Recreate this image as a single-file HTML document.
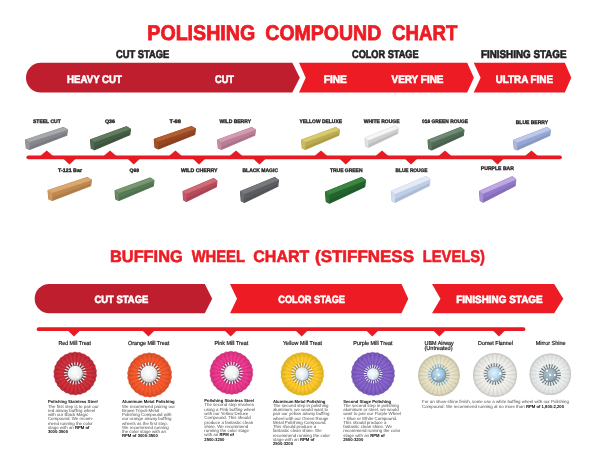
<!DOCTYPE html>
<html lang="en"><head><meta charset="utf-8"><title>Polishing Compound Chart</title>
<style>
html,body{margin:0;padding:0;background:#fff}
body{width:600px;height:469px;overflow:hidden;position:relative;font-family:"Liberation Sans",sans-serif}
svg{position:absolute;left:0;top:0;display:block}
text{font-family:"Liberation Sans",sans-serif;text-rendering:geometricPrecision}
.b{font-weight:700}
.t1{font-weight:700;fill:#ED1C24;stroke:#ED1C24;stroke-width:.8px;stroke-linejoin:miter}
.t2{font-weight:700;fill:#ED1C24;stroke:#ED1C24;stroke-width:.6px}
.w{font-weight:700;fill:#fff;stroke:#fff;stroke-width:.6px}
.k{font-weight:700;fill:#231F20;stroke:#231F20;stroke-width:.65px}
.s{font-weight:700;fill:#231F20;stroke:#231F20;stroke-width:.33px}
.lb{fill:#231F20;stroke:#231F20;stroke-width:.22px}
.d{fill:#4d4d4f}
</style></head><body>
<svg width="600" height="469" viewBox="0 0 600 469">
<defs><filter id="s" x="-5%" y="-5%" width="110%" height="110%"><feGaussianBlur stdDeviation="0.35"/></filter>
<filter id="s2" x="-5%" y="-5%" width="110%" height="110%"><feGaussianBlur stdDeviation="0.5"/></filter>
<radialGradient id="hub" cx="0.45" cy="0.4" r="0.62"><stop offset="0" stop-color="#fff"/><stop offset="0.65" stop-color="#eceeef"/><stop offset="1" stop-color="#bcc0c3"/></radialGradient>
<filter id="s3" x="-8%" y="-8%" width="116%" height="116%"><feGaussianBlur stdDeviation="0.65"/></filter>
<radialGradient id="hubl" cx="0.45" cy="0.42" r="0.6"><stop offset="0" stop-color="#ffffff"/><stop offset="0.6" stop-color="#e2ecf2"/><stop offset="1" stop-color="#b4c4ce"/></radialGradient>
<radialGradient id="hubb2" cx="0.45" cy="0.42" r="0.6"><stop offset="0" stop-color="#e6f2fa"/><stop offset="0.6" stop-color="#b9d7ea"/><stop offset="1" stop-color="#86a8bd"/></radialGradient>
<radialGradient id="hubg" cx="0.45" cy="0.42" r="0.6"><stop offset="0" stop-color="#b4c6d0"/><stop offset="0.7" stop-color="#92aab8"/><stop offset="1" stop-color="#6e8592"/></radialGradient>
<radialGradient id="rim" cx="0.5" cy="0.5" r="0.5"><stop offset="0" stop-color="#000" stop-opacity="0"/><stop offset="0.72" stop-color="#000" stop-opacity="0"/><stop offset="1" stop-color="#000" stop-opacity="0.12"/></radialGradient>
<radialGradient id="rimw" cx="0.5" cy="0.5" r="0.5"><stop offset="0" stop-color="#444" stop-opacity="0.06"/><stop offset="0.6" stop-color="#444" stop-opacity="0"/><stop offset="0.9" stop-color="#444" stop-opacity="0.10"/><stop offset="1" stop-color="#333" stop-opacity="0.26"/></radialGradient>
<radialGradient id="hubb" cx="0.45" cy="0.4" r="0.6"><stop offset="0" stop-color="#cfe6f4"/><stop offset="0.6" stop-color="#9cc3dd"/><stop offset="1" stop-color="#6f93ab"/></radialGradient>
</defs>
<rect width="600" height="469" fill="#fff"/>
<text x="147.30" y="39.70" font-size="21.2" class="t1" textLength="107.90" lengthAdjust="spacingAndGlyphs">POLISHING</text>
<text x="265.30" y="39.70" font-size="21.2" class="t1" textLength="116.00" lengthAdjust="spacingAndGlyphs">COMPOUND</text>
<text x="392.00" y="39.70" font-size="21.2" class="t1" textLength="65.30" lengthAdjust="spacingAndGlyphs">CHART</text>
<text x="116.00" y="58.00" font-size="11.2" class="k" textLength="53.30" lengthAdjust="spacingAndGlyphs">CUT STAGE</text>
<text x="352.00" y="58.00" font-size="11.2" class="k" textLength="66.60" lengthAdjust="spacingAndGlyphs">COLOR STAGE</text>
<text x="481.00" y="58.00" font-size="11.2" class="k" textLength="85.50" lengthAdjust="spacingAndGlyphs">FINISHING STAGE</text>
<path d="M40.85 62.8 H292.3 L299.8 77.65 L292.3 92.5 H40.85 A14.85 14.85 0 0 1 40.85 62.8Z" fill="#BE1E2D"/>
<path d="M299 62.8 H467.2 L473.9 77.65 L467.2 92.5 H299 L305.7 77.65Z" fill="#ED1C24"/>
<path d="M473.7 62.8 H564.8 L571.3 77.65 L564.8 92.5 H473.7 L480.6 77.65Z" fill="#ED1C24"/>
<text x="67.00" y="82.50" font-size="11" class="w" textLength="55.00" lengthAdjust="spacingAndGlyphs">HEAVY CUT</text>
<text x="215.00" y="82.50" font-size="11" class="w" textLength="19.00" lengthAdjust="spacingAndGlyphs">CUT</text>
<text x="323.70" y="82.50" font-size="11" class="w" textLength="23.10" lengthAdjust="spacingAndGlyphs">FINE</text>
<text x="391.50" y="82.50" font-size="11" class="w" textLength="52.00" lengthAdjust="spacingAndGlyphs">VERY FINE</text>
<text x="495.70" y="82.50" font-size="11" class="w" textLength="57.30" lengthAdjust="spacingAndGlyphs">ULTRA FINE</text>
<line x1="28.3" y1="157.3" x2="560" y2="157.3" stroke="#E61B23" stroke-width="3.7" stroke-linecap="round"/>
<path d="M38.80 157.3 L46.70 150.40 L54.60 157.3Z" fill="#E61B23"/>
<path d="M102.10 157.3 L110.00 150.40 L117.90 157.3Z" fill="#E61B23"/>
<path d="M167.50 157.3 L175.40 150.40 L183.30 157.3Z" fill="#E61B23"/>
<path d="M228.10 157.3 L236.00 150.40 L243.90 157.3Z" fill="#E61B23"/>
<path d="M313.10 157.3 L321.00 150.40 L328.90 157.3Z" fill="#E61B23"/>
<path d="M374.10 157.3 L382.00 150.40 L389.90 157.3Z" fill="#E61B23"/>
<path d="M437.10 157.3 L445.00 150.40 L452.90 157.3Z" fill="#E61B23"/>
<path d="M523.60 157.3 L531.50 150.40 L539.40 157.3Z" fill="#E61B23"/>
<path d="M61.70 157.3 L69.50 164.40 L77.30 157.3Z" fill="#E61B23"/>
<path d="M125.95 157.3 L133.75 164.40 L141.55 157.3Z" fill="#E61B23"/>
<path d="M191.20 157.3 L199.00 164.40 L206.80 157.3Z" fill="#E61B23"/>
<path d="M251.70 157.3 L259.50 164.40 L267.30 157.3Z" fill="#E61B23"/>
<path d="M337.95 157.3 L345.75 164.40 L353.55 157.3Z" fill="#E61B23"/>
<path d="M403.20 157.3 L411.00 164.40 L418.80 157.3Z" fill="#E61B23"/>
<path d="M489.70 157.3 L497.50 164.40 L505.30 157.3Z" fill="#E61B23"/>
<g filter="url(#s)">
<polygon points="25.50,139.90 63.30,127.50 67.50,129.80 66.72,135.30 29.70,149.50 26.28,148.00" fill="#84868b" stroke="#84868b" stroke-width="1.1" stroke-linejoin="round"/>
<polygon points="29.60,146.70 66.91,133.30 66.72,135.30 29.70,149.50" fill="#000" fill-opacity="0.09"/>
<polygon points="25.50,139.90 63.30,127.50 67.50,129.80 29.41,142.10" fill="#a7a9ac" stroke="#a7a9ac" stroke-width="0.5" stroke-linejoin="round"/>
<polygon points="25.50,139.90 29.41,142.10 29.70,149.50 26.28,148.00" fill="#94969a"/>
</g>
<text x="33.00" y="123.20" font-size="5.1" class="s" textLength="27.75" lengthAdjust="spacingAndGlyphs">STEEL CUT</text>
<g filter="url(#s)">
<polygon points="90.50,139.66 126.50,126.70 130.50,129.10 129.76,134.85 94.50,149.70 91.24,148.13" fill="#425c44" stroke="#425c44" stroke-width="1.1" stroke-linejoin="round"/>
<polygon points="94.41,146.77 129.94,132.76 129.76,134.85 94.50,149.70" fill="#000" fill-opacity="0.09"/>
<polygon points="90.50,139.66 126.50,126.70 130.50,129.10 94.22,141.96" fill="#627c5e" stroke="#627c5e" stroke-width="0.5" stroke-linejoin="round"/>
<polygon points="90.50,139.66 94.22,141.96 94.50,149.70 91.24,148.13" fill="#506a50"/>
</g>
<text x="105.00" y="123.20" font-size="5.1" class="s" textLength="10.00" lengthAdjust="spacingAndGlyphs">Q36</text>
<g filter="url(#s)">
<polygon points="154.25,139.18 191.38,126.50 195.50,128.85 194.73,134.48 158.38,149.00 155.02,147.47" fill="#964624" stroke="#964624" stroke-width="1.1" stroke-linejoin="round"/>
<polygon points="158.28,146.14 194.92,132.43 194.73,134.48 158.38,149.00" fill="#000" fill-opacity="0.09"/>
<polygon points="154.25,139.18 191.38,126.50 195.50,128.85 158.09,141.43" fill="#b45e30" stroke="#b45e30" stroke-width="0.5" stroke-linejoin="round"/>
<polygon points="154.25,139.18 158.09,141.43 158.38,149.00 155.02,147.47" fill="#a25028"/>
</g>
<text x="169.50" y="123.20" font-size="5.1" class="s" textLength="11.50" lengthAdjust="spacingAndGlyphs">T-88</text>
<g filter="url(#s)">
<polygon points="217.50,139.90 251.70,127.50 255.50,129.80 254.79,135.30 221.30,149.50 218.21,148.00" fill="#ba7e96" stroke="#ba7e96" stroke-width="1.1" stroke-linejoin="round"/>
<polygon points="221.21,146.70 254.97,133.30 254.79,135.30 221.30,149.50" fill="#000" fill-opacity="0.09"/>
<polygon points="217.50,139.90 251.70,127.50 255.50,129.80 221.03,142.10" fill="#d39cb0" stroke="#d39cb0" stroke-width="0.5" stroke-linejoin="round"/>
<polygon points="217.50,139.90 221.03,142.10 221.30,149.50 218.21,148.00" fill="#c58ba1"/>
</g>
<text x="219.50" y="123.20" font-size="5.1" class="s" textLength="31.50" lengthAdjust="spacingAndGlyphs">WILD BERRY</text>
<g filter="url(#s)">
<polygon points="301.50,139.90 335.70,127.50 339.50,129.80 338.79,135.30 305.30,149.50 302.21,148.00" fill="#bcac50" stroke="#bcac50" stroke-width="1.1" stroke-linejoin="round"/>
<polygon points="305.21,146.70 338.97,133.30 338.79,135.30 305.30,149.50" fill="#000" fill-opacity="0.09"/>
<polygon points="301.50,139.90 335.70,127.50 339.50,129.80 305.03,142.10" fill="#d8ca70" stroke="#d8ca70" stroke-width="0.5" stroke-linejoin="round"/>
<polygon points="301.50,139.90 305.03,142.10 305.30,149.50 302.21,148.00" fill="#cabc60"/>
</g>
<text x="299.50" y="123.20" font-size="5.1" class="s" textLength="42.50" lengthAdjust="spacingAndGlyphs">YELLOW DELUXE</text>
<g filter="url(#s)">
<polygon points="365.00,138.12 394.93,126.00 398.25,128.25 397.63,133.62 368.32,147.50 365.62,146.03" fill="#cecfd1" stroke="#cecfd1" stroke-width="1.1" stroke-linejoin="round"/>
<polygon points="368.25,144.76 397.79,131.67 397.63,133.62 368.32,147.50" fill="#000" fill-opacity="0.09"/>
<polygon points="365.00,138.12 394.93,126.00 398.25,128.25 368.09,140.27" fill="#f6f6f6" stroke="#f6f6f6" stroke-width="0.5" stroke-linejoin="round"/>
<polygon points="365.00,138.12 368.09,140.27 368.32,147.50 365.62,146.03" fill="#e0e1e2"/>
</g>
<text x="363.75" y="123.20" font-size="5.1" class="s" textLength="35.75" lengthAdjust="spacingAndGlyphs">WHITE ROUGE</text>
<g filter="url(#s)">
<polygon points="428.00,140.18 460.40,127.50 464.00,129.85 463.33,135.48 431.60,150.00 428.67,148.47" fill="#506a56" stroke="#506a56" stroke-width="1.1" stroke-linejoin="round"/>
<polygon points="431.52,147.14 463.50,133.43 463.33,135.48 431.60,150.00" fill="#000" fill-opacity="0.09"/>
<polygon points="428.00,140.18 460.40,127.50 464.00,129.85 431.35,142.43" fill="#708a72" stroke="#708a72" stroke-width="0.5" stroke-linejoin="round"/>
<polygon points="428.00,140.18 431.35,142.43 431.60,150.00 428.67,148.47" fill="#607a64"/>
</g>
<text x="422.00" y="123.20" font-size="5.1" class="s" textLength="46.00" lengthAdjust="spacingAndGlyphs">016 GREEN ROUGE</text>
<g filter="url(#s)">
<polygon points="513.50,140.18 546.80,127.50 550.50,129.85 549.81,135.48 517.20,150.00 514.19,148.47" fill="#96a6d4" stroke="#96a6d4" stroke-width="1.1" stroke-linejoin="round"/>
<polygon points="517.11,147.14 549.98,133.43 549.81,135.48 517.20,150.00" fill="#000" fill-opacity="0.09"/>
<polygon points="513.50,140.18 546.80,127.50 550.50,129.85 516.94,142.43" fill="#bec8e8" stroke="#bec8e8" stroke-width="0.5" stroke-linejoin="round"/>
<polygon points="513.50,140.18 516.94,142.43 517.20,150.00 514.19,148.47" fill="#aab6de"/>
</g>
<text x="515.75" y="123.50" font-size="5.1" class="s" textLength="32.25" lengthAdjust="spacingAndGlyphs">BLUE BERRY</text>
<g filter="url(#s)">
<polygon points="48.00,190.46 87.15,177.50 91.50,179.90 90.69,185.65 52.35,200.50 48.81,198.93" fill="#be8850" stroke="#be8850" stroke-width="1.1" stroke-linejoin="round"/>
<polygon points="52.25,197.57 90.89,183.56 90.69,185.65 52.35,200.50" fill="#000" fill-opacity="0.09"/>
<polygon points="48.00,190.46 87.15,177.50 91.50,179.90 52.05,192.76" fill="#daa870" stroke="#daa870" stroke-width="0.5" stroke-linejoin="round"/>
<polygon points="48.00,190.46 52.05,192.76 52.35,200.50 48.81,198.93" fill="#cc9860"/>
</g>
<text x="58.00" y="172.00" font-size="5.1" class="s" textLength="24.00" lengthAdjust="spacingAndGlyphs">T-121 Bar</text>
<g filter="url(#s)">
<polygon points="115.00,190.68 150.10,178.00 154.00,180.35 153.27,185.98 118.90,200.50 115.73,198.97" fill="#567a56" stroke="#567a56" stroke-width="1.1" stroke-linejoin="round"/>
<polygon points="118.81,197.64 153.46,183.93 153.27,185.98 118.90,200.50" fill="#000" fill-opacity="0.09"/>
<polygon points="115.00,190.68 150.10,178.00 154.00,180.35 118.63,192.93" fill="#7a9870" stroke="#7a9870" stroke-width="0.5" stroke-linejoin="round"/>
<polygon points="115.00,190.68 118.63,192.93 118.90,200.50 115.73,198.97" fill="#688862"/>
</g>
<text x="129.50" y="172.00" font-size="5.1" class="s" textLength="9.50" lengthAdjust="spacingAndGlyphs">Q69</text>
<g filter="url(#s)">
<polygon points="183.00,191.46 213.60,178.50 217.00,180.90 216.37,186.65 186.40,201.50 183.63,199.93" fill="#b64c5c" stroke="#b64c5c" stroke-width="1.1" stroke-linejoin="round"/>
<polygon points="186.32,198.57 216.53,184.56 216.37,186.65 186.40,201.50" fill="#000" fill-opacity="0.09"/>
<polygon points="183.00,191.46 213.60,178.50 217.00,180.90 186.16,193.76" fill="#d16a77" stroke="#d16a77" stroke-width="0.5" stroke-linejoin="round"/>
<polygon points="183.00,191.46 186.16,193.76 186.40,201.50 183.63,199.93" fill="#c35a68"/>
</g>
<text x="181.00" y="172.00" font-size="5.1" class="s" textLength="36.50" lengthAdjust="spacingAndGlyphs">WILD CHERRY</text>
<g filter="url(#s)">
<polygon points="240.50,191.59 274.70,177.50 278.50,180.11 277.79,186.36 244.30,202.50 241.21,200.80" fill="#5a5c60" stroke="#5a5c60" stroke-width="1.1" stroke-linejoin="round"/>
<polygon points="244.21,199.32 277.97,184.09 277.79,186.36 244.30,202.50" fill="#000" fill-opacity="0.09"/>
<polygon points="240.50,191.59 274.70,177.50 278.50,180.11 244.03,194.09" fill="#77797d" stroke="#77797d" stroke-width="0.5" stroke-linejoin="round"/>
<polygon points="240.50,191.59 244.03,194.09 244.30,202.50 241.21,200.80" fill="#686a6e"/>
</g>
<text x="242.50" y="172.00" font-size="5.1" class="s" textLength="35.50" lengthAdjust="spacingAndGlyphs">BLACK MAGIC</text>
<g filter="url(#s)">
<polygon points="325.50,192.01 361.50,177.50 365.50,180.19 364.76,186.63 329.50,203.25 326.24,201.49" fill="#22642e" stroke="#22642e" stroke-width="1.1" stroke-linejoin="round"/>
<polygon points="329.41,199.97 364.94,184.29 364.76,186.63 329.50,203.25" fill="#000" fill-opacity="0.09"/>
<polygon points="325.50,192.01 361.50,177.50 365.50,180.19 329.22,194.59" fill="#3e8640" stroke="#3e8640" stroke-width="0.5" stroke-linejoin="round"/>
<polygon points="325.50,192.01 329.22,194.59 329.50,203.25 326.24,201.49" fill="#307436"/>
</g>
<text x="330.00" y="172.00" font-size="5.1" class="s" textLength="32.50" lengthAdjust="spacingAndGlyphs">TRUE GREEN</text>
<g filter="url(#s)">
<polygon points="391.25,191.15 426.12,176.50 430.00,179.22 429.28,185.72 395.12,202.50 391.97,200.73" fill="#becee8" stroke="#becee8" stroke-width="1.1" stroke-linejoin="round"/>
<polygon points="395.03,199.19 429.46,183.35 429.28,185.72 395.12,202.50" fill="#000" fill-opacity="0.09"/>
<polygon points="391.25,191.15 426.12,176.50 430.00,179.22 394.85,193.75" fill="#e4eaf6" stroke="#e4eaf6" stroke-width="0.5" stroke-linejoin="round"/>
<polygon points="391.25,191.15 394.85,193.75 395.12,202.50 391.97,200.73" fill="#d0dcf0"/>
</g>
<text x="395.50" y="172.00" font-size="5.1" class="s" textLength="32.00" lengthAdjust="spacingAndGlyphs">BLUE ROUGE</text>
<g filter="url(#s)">
<polygon points="479.50,191.17 512.17,176.80 515.80,179.47 515.12,185.84 483.13,202.30 480.18,200.56" fill="#9278c8" stroke="#9278c8" stroke-width="1.1" stroke-linejoin="round"/>
<polygon points="483.05,199.05 515.29,183.52 515.12,185.84 483.13,202.30" fill="#000" fill-opacity="0.09"/>
<polygon points="479.50,191.17 512.17,176.80 515.80,179.47 482.88,193.72" fill="#beaae2" stroke="#beaae2" stroke-width="0.5" stroke-linejoin="round"/>
<polygon points="479.50,191.17 482.88,193.72 483.13,202.30 480.18,200.56" fill="#a690d4"/>
</g>
<text x="480.80" y="169.80" font-size="5.1" class="s" textLength="33.20" lengthAdjust="spacingAndGlyphs">PURPLE BAR</text>
<text x="110.00" y="262.40" font-size="16.6" class="t2" textLength="72.70" lengthAdjust="spacingAndGlyphs">BUFFING</text>
<text x="191.70" y="262.40" font-size="16.6" class="t2" textLength="53.30" lengthAdjust="spacingAndGlyphs">WHEEL</text>
<text x="253.30" y="262.40" font-size="16.6" class="t2" textLength="56.00" lengthAdjust="spacingAndGlyphs">CHART</text>
<text x="315.00" y="262.40" font-size="16.6" class="t2" textLength="99.00" lengthAdjust="spacingAndGlyphs">(STIFFNESS</text>
<text x="422.70" y="262.40" font-size="16.6" class="t2" textLength="62.30" lengthAdjust="spacingAndGlyphs">LEVELS)</text>
<path d="M49.35 284 H204.8 L212.2 298.65 L204.8 313.3 H49.35 A14.65 14.65 0 0 1 49.35 284Z" fill="#BE1E2D"/>
<path d="M230 284 H401.5 L408.3 298.65 L401.5 313.3 H230 L237 298.65Z" fill="#ED1C24"/>
<path d="M432 284 H554.2 L563.3 298.65 L554.2 313.3 H432 L440.5 298.65Z" fill="#ED1C24"/>
<text x="94.50" y="303.00" font-size="10.5" class="w" textLength="53.80" lengthAdjust="spacingAndGlyphs">CUT STAGE</text>
<text x="278.30" y="303.00" font-size="10.5" class="w" textLength="66.70" lengthAdjust="spacingAndGlyphs">COLOR STAGE</text>
<text x="456.30" y="303.00" font-size="10.5" class="w" textLength="86.40" lengthAdjust="spacingAndGlyphs">FINISHING STAGE</text>
<line x1="38.6" y1="329.2" x2="523.5" y2="329.2" stroke="#E61B23" stroke-width="3.7" stroke-linecap="round"/>
<path d="M66.60 329.2 L74.00 336.60 L81.40 329.2Z" fill="#E61B23"/>
<path d="M141.10 329.2 L148.50 336.60 L155.90 329.2Z" fill="#E61B23"/>
<path d="M223.30 329.2 L230.70 336.60 L238.10 329.2Z" fill="#E61B23"/>
<path d="M294.30 329.2 L301.70 336.60 L309.10 329.2Z" fill="#E61B23"/>
<path d="M364.90 329.2 L372.30 336.60 L379.70 329.2Z" fill="#E61B23"/>
<path d="M431.90 329.2 L439.30 336.60 L446.70 329.2Z" fill="#E61B23"/>
<path d="M491.60 329.2 L499.00 336.60 L506.40 329.2Z" fill="#E61B23"/>
<g filter="url(#s2)">
<polygon points="96.59,375.65 95.49,378.06 95.46,380.70 93.81,382.78 93.14,385.34 91.05,386.97 89.79,389.29 87.37,390.37 85.59,392.33 82.98,392.79 80.78,394.26 78.14,394.09 75.65,395.00 73.12,394.20 70.49,394.48 68.23,393.10 65.61,392.74 63.74,390.86 61.28,389.89 59.92,387.61 57.76,386.08 56.99,383.55 55.26,381.54 55.11,378.90 53.92,376.54 54.40,373.93 53.81,371.35 54.91,368.94 54.94,366.30 56.59,364.22 57.26,361.66 59.35,360.03 60.61,357.71 63.03,356.63 64.81,354.67 67.42,354.21 69.62,352.74 72.26,352.91 74.75,352.00 77.28,352.80 79.91,352.52 82.17,353.90 84.79,354.26 86.66,356.14 89.12,357.11 90.48,359.39 92.64,360.92 93.41,363.45 95.14,365.46 95.29,368.10 96.48,370.46 96.00,373.07" fill="#CD2D3A" stroke="#CD2D3A" stroke-width="0.6" stroke-linejoin="round"/>
<line x1="86.13" y1="375.95" x2="95.40" y2="378.03" stroke="#8f1420" stroke-width="0.9" stroke-opacity="0.32"/>
<line x1="85.75" y1="377.25" x2="94.99" y2="380.54" stroke="#ec6068" stroke-width="0.9" stroke-opacity="0.22"/>
<line x1="85.22" y1="378.50" x2="93.73" y2="382.74" stroke="#8f1420" stroke-width="0.9" stroke-opacity="0.32"/>
<line x1="84.55" y1="379.67" x2="92.73" y2="385.07" stroke="#ec6068" stroke-width="0.9" stroke-opacity="0.22"/>
<line x1="83.74" y1="380.75" x2="90.98" y2="386.90" stroke="#8f1420" stroke-width="0.9" stroke-opacity="0.32"/>
<line x1="82.80" y1="381.73" x2="89.45" y2="388.93" stroke="#ec6068" stroke-width="0.9" stroke-opacity="0.22"/>
<line x1="81.75" y1="382.58" x2="87.31" y2="390.29" stroke="#8f1420" stroke-width="0.9" stroke-opacity="0.32"/>
<line x1="80.61" y1="383.31" x2="85.34" y2="391.89" stroke="#ec6068" stroke-width="0.9" stroke-opacity="0.22"/>
<line x1="79.39" y1="383.89" x2="82.94" y2="392.70" stroke="#8f1420" stroke-width="0.9" stroke-opacity="0.32"/>
<line x1="78.11" y1="384.32" x2="80.65" y2="393.78" stroke="#ec6068" stroke-width="0.9" stroke-opacity="0.22"/>
<line x1="76.78" y1="384.59" x2="78.12" y2="393.99" stroke="#8f1420" stroke-width="0.9" stroke-opacity="0.32"/>
<line x1="75.43" y1="384.70" x2="75.64" y2="394.50" stroke="#ec6068" stroke-width="0.9" stroke-opacity="0.22"/>
<line x1="74.08" y1="384.64" x2="73.13" y2="394.10" stroke="#8f1420" stroke-width="0.9" stroke-opacity="0.32"/>
<line x1="72.75" y1="384.43" x2="70.60" y2="393.99" stroke="#ec6068" stroke-width="0.9" stroke-opacity="0.22"/>
<line x1="71.45" y1="384.05" x2="68.26" y2="393.00" stroke="#8f1420" stroke-width="0.9" stroke-opacity="0.32"/>
<line x1="70.20" y1="383.52" x2="65.83" y2="392.29" stroke="#ec6068" stroke-width="0.9" stroke-opacity="0.22"/>
<line x1="69.03" y1="382.85" x2="63.80" y2="390.78" stroke="#8f1420" stroke-width="0.9" stroke-opacity="0.32"/>
<line x1="67.95" y1="382.04" x2="61.60" y2="389.51" stroke="#ec6068" stroke-width="0.9" stroke-opacity="0.22"/>
<line x1="66.97" y1="381.10" x2="60.00" y2="387.55" stroke="#8f1420" stroke-width="0.9" stroke-opacity="0.32"/>
<line x1="66.12" y1="380.05" x2="58.17" y2="385.79" stroke="#ec6068" stroke-width="0.9" stroke-opacity="0.22"/>
<line x1="65.39" y1="378.91" x2="57.08" y2="383.50" stroke="#8f1420" stroke-width="0.9" stroke-opacity="0.32"/>
<line x1="64.81" y1="377.69" x2="55.72" y2="381.35" stroke="#ec6068" stroke-width="0.9" stroke-opacity="0.22"/>
<line x1="64.38" y1="376.41" x2="55.21" y2="378.87" stroke="#8f1420" stroke-width="0.9" stroke-opacity="0.32"/>
<line x1="64.11" y1="375.08" x2="54.41" y2="376.46" stroke="#ec6068" stroke-width="0.9" stroke-opacity="0.22"/>
<line x1="64.00" y1="373.73" x2="54.50" y2="373.93" stroke="#8f1420" stroke-width="0.9" stroke-opacity="0.32"/>
<line x1="64.06" y1="372.38" x2="54.30" y2="371.40" stroke="#ec6068" stroke-width="0.9" stroke-opacity="0.22"/>
<line x1="64.27" y1="371.05" x2="55.00" y2="368.97" stroke="#8f1420" stroke-width="0.9" stroke-opacity="0.32"/>
<line x1="64.65" y1="369.75" x2="55.41" y2="366.46" stroke="#ec6068" stroke-width="0.9" stroke-opacity="0.22"/>
<line x1="65.18" y1="368.50" x2="56.67" y2="364.26" stroke="#8f1420" stroke-width="0.9" stroke-opacity="0.32"/>
<line x1="65.85" y1="367.33" x2="57.67" y2="361.93" stroke="#ec6068" stroke-width="0.9" stroke-opacity="0.22"/>
<line x1="66.66" y1="366.25" x2="59.42" y2="360.10" stroke="#8f1420" stroke-width="0.9" stroke-opacity="0.32"/>
<line x1="67.60" y1="365.27" x2="60.95" y2="358.07" stroke="#ec6068" stroke-width="0.9" stroke-opacity="0.22"/>
<line x1="68.65" y1="364.42" x2="63.09" y2="356.71" stroke="#8f1420" stroke-width="0.9" stroke-opacity="0.32"/>
<line x1="69.79" y1="363.69" x2="65.06" y2="355.11" stroke="#ec6068" stroke-width="0.9" stroke-opacity="0.22"/>
<line x1="71.01" y1="363.11" x2="67.46" y2="354.30" stroke="#8f1420" stroke-width="0.9" stroke-opacity="0.32"/>
<line x1="72.29" y1="362.68" x2="69.75" y2="353.22" stroke="#ec6068" stroke-width="0.9" stroke-opacity="0.22"/>
<line x1="73.62" y1="362.41" x2="72.28" y2="353.01" stroke="#8f1420" stroke-width="0.9" stroke-opacity="0.32"/>
<line x1="74.97" y1="362.30" x2="74.76" y2="352.50" stroke="#ec6068" stroke-width="0.9" stroke-opacity="0.22"/>
<line x1="76.32" y1="362.36" x2="77.27" y2="352.90" stroke="#8f1420" stroke-width="0.9" stroke-opacity="0.32"/>
<line x1="77.65" y1="362.57" x2="79.80" y2="353.01" stroke="#ec6068" stroke-width="0.9" stroke-opacity="0.22"/>
<line x1="78.95" y1="362.95" x2="82.14" y2="354.00" stroke="#8f1420" stroke-width="0.9" stroke-opacity="0.32"/>
<line x1="80.20" y1="363.48" x2="84.57" y2="354.71" stroke="#ec6068" stroke-width="0.9" stroke-opacity="0.22"/>
<line x1="81.37" y1="364.15" x2="86.60" y2="356.22" stroke="#8f1420" stroke-width="0.9" stroke-opacity="0.32"/>
<line x1="82.45" y1="364.96" x2="88.80" y2="357.49" stroke="#ec6068" stroke-width="0.9" stroke-opacity="0.22"/>
<line x1="83.43" y1="365.90" x2="90.40" y2="359.45" stroke="#8f1420" stroke-width="0.9" stroke-opacity="0.32"/>
<line x1="84.28" y1="366.95" x2="92.23" y2="361.21" stroke="#ec6068" stroke-width="0.9" stroke-opacity="0.22"/>
<line x1="85.01" y1="368.09" x2="93.32" y2="363.50" stroke="#8f1420" stroke-width="0.9" stroke-opacity="0.32"/>
<line x1="85.59" y1="369.31" x2="94.68" y2="365.65" stroke="#ec6068" stroke-width="0.9" stroke-opacity="0.22"/>
<line x1="86.02" y1="370.59" x2="95.19" y2="368.13" stroke="#8f1420" stroke-width="0.9" stroke-opacity="0.32"/>
<line x1="86.29" y1="371.92" x2="95.99" y2="370.54" stroke="#ec6068" stroke-width="0.9" stroke-opacity="0.22"/>
<line x1="86.40" y1="373.27" x2="95.90" y2="373.07" stroke="#8f1420" stroke-width="0.9" stroke-opacity="0.32"/>
<line x1="86.34" y1="374.62" x2="96.10" y2="375.60" stroke="#ec6068" stroke-width="0.9" stroke-opacity="0.22"/>
<circle cx="75.2" cy="373.5" r="21.3" fill="url(#rim)"/>
</g><g filter="url(#s)">
<circle cx="75.3" cy="373.4" r="11.2" fill="#8e2a34"/>
<circle cx="75.3" cy="373.4" r="9.45" fill="none" stroke="#ececec" stroke-width="3.50" stroke-dasharray="1.134 1.565"/>
<circle cx="75.3" cy="373.4" r="8.05" fill="#59626a" fill-opacity="0.75"/>
<circle cx="75.3" cy="373.4" r="7.7" fill="url(#hub)"/>
<circle cx="75.60" cy="373.40" r="1.0" fill="#fff"/>
<circle cx="78.10" cy="377.00" r="1.3" fill="#fff"/>
</g>
<text x="58.40" y="345.30" font-size="5.8" class="lb" textLength="32.60" lengthAdjust="spacingAndGlyphs">Red Mill Treat</text>
<g filter="url(#s2)">
<polygon points="171.69,377.22 170.58,379.71 170.52,382.44 168.84,384.59 168.13,387.23 165.99,388.92 164.66,391.31 162.18,392.44 160.32,394.44 157.64,394.94 155.36,396.44 152.64,396.28 150.06,397.20 147.45,396.39 144.74,396.66 142.40,395.26 139.69,394.87 137.76,392.94 135.23,391.92 133.81,389.59 131.60,387.99 130.77,385.39 129.01,383.30 128.84,380.58 127.62,378.13 128.10,375.45 127.51,372.78 128.62,370.29 128.68,367.56 130.36,365.41 131.07,362.77 133.21,361.08 134.54,358.69 137.02,357.56 138.88,355.56 141.56,355.06 143.84,353.56 146.56,353.72 149.14,352.80 151.75,353.61 154.46,353.34 156.80,354.74 159.51,355.13 161.44,357.06 163.97,358.08 165.39,360.41 167.60,362.01 168.43,364.61 170.19,366.70 170.36,369.42 171.58,371.87 171.10,374.55" fill="#F4582C" stroke="#F4582C" stroke-width="0.6" stroke-linejoin="round"/>
<line x1="161.02" y1="377.56" x2="170.48" y2="379.69" stroke="#c63c10" stroke-width="0.9" stroke-opacity="0.32"/>
<line x1="160.62" y1="378.92" x2="170.05" y2="382.27" stroke="#ff8a5a" stroke-width="0.9" stroke-opacity="0.22"/>
<line x1="160.07" y1="380.22" x2="168.75" y2="384.55" stroke="#c63c10" stroke-width="0.9" stroke-opacity="0.32"/>
<line x1="159.37" y1="381.44" x2="167.71" y2="386.95" stroke="#ff8a5a" stroke-width="0.9" stroke-opacity="0.22"/>
<line x1="158.52" y1="382.57" x2="165.91" y2="388.85" stroke="#c63c10" stroke-width="0.9" stroke-opacity="0.32"/>
<line x1="157.54" y1="383.59" x2="164.32" y2="390.94" stroke="#ff8a5a" stroke-width="0.9" stroke-opacity="0.22"/>
<line x1="156.45" y1="384.49" x2="162.12" y2="392.35" stroke="#c63c10" stroke-width="0.9" stroke-opacity="0.32"/>
<line x1="155.25" y1="385.24" x2="160.08" y2="394.00" stroke="#ff8a5a" stroke-width="0.9" stroke-opacity="0.22"/>
<line x1="153.98" y1="385.85" x2="157.60" y2="394.85" stroke="#c63c10" stroke-width="0.9" stroke-opacity="0.32"/>
<line x1="152.64" y1="386.30" x2="155.23" y2="395.96" stroke="#ff8a5a" stroke-width="0.9" stroke-opacity="0.22"/>
<line x1="151.25" y1="386.58" x2="152.62" y2="396.19" stroke="#c63c10" stroke-width="0.9" stroke-opacity="0.32"/>
<line x1="149.84" y1="386.70" x2="150.05" y2="396.70" stroke="#ff8a5a" stroke-width="0.9" stroke-opacity="0.22"/>
<line x1="148.43" y1="386.64" x2="147.46" y2="396.29" stroke="#c63c10" stroke-width="0.9" stroke-opacity="0.32"/>
<line x1="147.04" y1="386.42" x2="144.85" y2="396.17" stroke="#ff8a5a" stroke-width="0.9" stroke-opacity="0.22"/>
<line x1="145.68" y1="386.02" x2="142.43" y2="395.16" stroke="#c63c10" stroke-width="0.9" stroke-opacity="0.32"/>
<line x1="144.38" y1="385.47" x2="139.92" y2="394.42" stroke="#ff8a5a" stroke-width="0.9" stroke-opacity="0.22"/>
<line x1="143.16" y1="384.77" x2="137.81" y2="392.86" stroke="#c63c10" stroke-width="0.9" stroke-opacity="0.32"/>
<line x1="142.03" y1="383.92" x2="135.55" y2="391.54" stroke="#ff8a5a" stroke-width="0.9" stroke-opacity="0.22"/>
<line x1="141.01" y1="382.94" x2="133.88" y2="389.52" stroke="#c63c10" stroke-width="0.9" stroke-opacity="0.32"/>
<line x1="140.11" y1="381.85" x2="132.00" y2="387.70" stroke="#ff8a5a" stroke-width="0.9" stroke-opacity="0.22"/>
<line x1="139.36" y1="380.65" x2="130.86" y2="385.34" stroke="#c63c10" stroke-width="0.9" stroke-opacity="0.32"/>
<line x1="138.75" y1="379.38" x2="129.47" y2="383.12" stroke="#ff8a5a" stroke-width="0.9" stroke-opacity="0.22"/>
<line x1="138.30" y1="378.04" x2="128.93" y2="380.55" stroke="#c63c10" stroke-width="0.9" stroke-opacity="0.32"/>
<line x1="138.02" y1="376.65" x2="128.12" y2="378.06" stroke="#ff8a5a" stroke-width="0.9" stroke-opacity="0.22"/>
<line x1="137.90" y1="375.24" x2="128.20" y2="375.45" stroke="#c63c10" stroke-width="0.9" stroke-opacity="0.32"/>
<line x1="137.96" y1="373.83" x2="128.01" y2="372.83" stroke="#ff8a5a" stroke-width="0.9" stroke-opacity="0.22"/>
<line x1="138.18" y1="372.44" x2="128.72" y2="370.31" stroke="#c63c10" stroke-width="0.9" stroke-opacity="0.32"/>
<line x1="138.58" y1="371.08" x2="129.15" y2="367.73" stroke="#ff8a5a" stroke-width="0.9" stroke-opacity="0.22"/>
<line x1="139.13" y1="369.78" x2="130.45" y2="365.45" stroke="#c63c10" stroke-width="0.9" stroke-opacity="0.32"/>
<line x1="139.83" y1="368.56" x2="131.49" y2="363.05" stroke="#ff8a5a" stroke-width="0.9" stroke-opacity="0.22"/>
<line x1="140.68" y1="367.43" x2="133.29" y2="361.15" stroke="#c63c10" stroke-width="0.9" stroke-opacity="0.32"/>
<line x1="141.66" y1="366.41" x2="134.88" y2="359.06" stroke="#ff8a5a" stroke-width="0.9" stroke-opacity="0.22"/>
<line x1="142.75" y1="365.51" x2="137.08" y2="357.65" stroke="#c63c10" stroke-width="0.9" stroke-opacity="0.32"/>
<line x1="143.95" y1="364.76" x2="139.12" y2="356.00" stroke="#ff8a5a" stroke-width="0.9" stroke-opacity="0.22"/>
<line x1="145.22" y1="364.15" x2="141.60" y2="355.15" stroke="#c63c10" stroke-width="0.9" stroke-opacity="0.32"/>
<line x1="146.56" y1="363.70" x2="143.97" y2="354.04" stroke="#ff8a5a" stroke-width="0.9" stroke-opacity="0.22"/>
<line x1="147.95" y1="363.42" x2="146.58" y2="353.81" stroke="#c63c10" stroke-width="0.9" stroke-opacity="0.32"/>
<line x1="149.36" y1="363.30" x2="149.15" y2="353.30" stroke="#ff8a5a" stroke-width="0.9" stroke-opacity="0.22"/>
<line x1="150.77" y1="363.36" x2="151.74" y2="353.71" stroke="#c63c10" stroke-width="0.9" stroke-opacity="0.32"/>
<line x1="152.16" y1="363.58" x2="154.35" y2="353.83" stroke="#ff8a5a" stroke-width="0.9" stroke-opacity="0.22"/>
<line x1="153.52" y1="363.98" x2="156.77" y2="354.84" stroke="#c63c10" stroke-width="0.9" stroke-opacity="0.32"/>
<line x1="154.82" y1="364.53" x2="159.28" y2="355.58" stroke="#ff8a5a" stroke-width="0.9" stroke-opacity="0.22"/>
<line x1="156.04" y1="365.23" x2="161.39" y2="357.14" stroke="#c63c10" stroke-width="0.9" stroke-opacity="0.32"/>
<line x1="157.17" y1="366.08" x2="163.65" y2="358.46" stroke="#ff8a5a" stroke-width="0.9" stroke-opacity="0.22"/>
<line x1="158.19" y1="367.06" x2="165.32" y2="360.48" stroke="#c63c10" stroke-width="0.9" stroke-opacity="0.32"/>
<line x1="159.09" y1="368.15" x2="167.20" y2="362.30" stroke="#ff8a5a" stroke-width="0.9" stroke-opacity="0.22"/>
<line x1="159.84" y1="369.35" x2="168.34" y2="364.66" stroke="#c63c10" stroke-width="0.9" stroke-opacity="0.32"/>
<line x1="160.45" y1="370.62" x2="169.73" y2="366.88" stroke="#ff8a5a" stroke-width="0.9" stroke-opacity="0.22"/>
<line x1="160.90" y1="371.96" x2="170.27" y2="369.45" stroke="#c63c10" stroke-width="0.9" stroke-opacity="0.32"/>
<line x1="161.18" y1="373.35" x2="171.08" y2="371.94" stroke="#ff8a5a" stroke-width="0.9" stroke-opacity="0.22"/>
<line x1="161.30" y1="374.76" x2="171.00" y2="374.55" stroke="#c63c10" stroke-width="0.9" stroke-opacity="0.32"/>
<line x1="161.24" y1="376.17" x2="171.19" y2="377.17" stroke="#ff8a5a" stroke-width="0.9" stroke-opacity="0.22"/>
<circle cx="149.6" cy="375" r="22.0" fill="url(#rim)"/>
</g><g filter="url(#s)">
<circle cx="149" cy="374" r="11.7" fill="#b4482c"/>
<circle cx="149" cy="374" r="10.05" fill="none" stroke="#ececec" stroke-width="3.30" stroke-dasharray="1.206 1.665"/>
<circle cx="149" cy="374" r="8.75" fill="#59626a" fill-opacity="0.75"/>
<circle cx="149" cy="374" r="8.4" fill="url(#hub)"/>
<circle cx="149.30" cy="374.00" r="1.0" fill="#fff"/>
<circle cx="151.80" cy="377.60" r="1.3" fill="#fff"/>
</g>
<text x="128.00" y="345.30" font-size="5.8" class="lb" textLength="41.20" lengthAdjust="spacingAndGlyphs">Orange Mill Treat</text>
<g filter="url(#s2)">
<polygon points="252.89,374.96 251.79,377.38 251.75,380.04 250.10,382.13 249.43,384.70 247.33,386.33 246.06,388.67 243.63,389.75 241.83,391.71 239.22,392.18 237.00,393.66 234.35,393.49 231.85,394.40 229.31,393.60 226.67,393.88 224.40,392.49 221.76,392.13 219.89,390.24 217.42,389.26 216.05,386.98 213.88,385.44 213.10,382.90 211.37,380.88 211.22,378.22 210.02,375.85 210.50,373.24 209.91,370.64 211.01,368.22 211.05,365.56 212.70,363.47 213.37,360.90 215.47,359.27 216.74,356.93 219.17,355.85 220.97,353.89 223.58,353.42 225.80,351.94 228.45,352.11 230.95,351.20 233.49,352.00 236.13,351.72 238.40,353.11 241.04,353.47 242.91,355.36 245.38,356.34 246.75,358.62 248.92,360.16 249.70,362.70 251.43,364.72 251.58,367.38 252.78,369.75 252.30,372.36" fill="#EB378C" stroke="#EB378C" stroke-width="0.6" stroke-linejoin="round"/>
<line x1="242.33" y1="375.25" x2="251.69" y2="377.36" stroke="#b81868" stroke-width="0.9" stroke-opacity="0.32"/>
<line x1="241.95" y1="376.55" x2="251.28" y2="379.87" stroke="#ff70b0" stroke-width="0.9" stroke-opacity="0.22"/>
<line x1="241.42" y1="377.80" x2="250.01" y2="382.08" stroke="#b81868" stroke-width="0.9" stroke-opacity="0.32"/>
<line x1="240.75" y1="378.97" x2="249.01" y2="384.42" stroke="#ff70b0" stroke-width="0.9" stroke-opacity="0.22"/>
<line x1="239.94" y1="380.05" x2="247.25" y2="386.27" stroke="#b81868" stroke-width="0.9" stroke-opacity="0.32"/>
<line x1="239.00" y1="381.03" x2="245.72" y2="388.30" stroke="#ff70b0" stroke-width="0.9" stroke-opacity="0.22"/>
<line x1="237.95" y1="381.88" x2="243.57" y2="389.67" stroke="#b81868" stroke-width="0.9" stroke-opacity="0.32"/>
<line x1="236.81" y1="382.61" x2="241.59" y2="391.27" stroke="#ff70b0" stroke-width="0.9" stroke-opacity="0.22"/>
<line x1="235.59" y1="383.19" x2="239.18" y2="392.09" stroke="#b81868" stroke-width="0.9" stroke-opacity="0.32"/>
<line x1="234.31" y1="383.62" x2="236.88" y2="393.18" stroke="#ff70b0" stroke-width="0.9" stroke-opacity="0.22"/>
<line x1="232.98" y1="383.89" x2="234.34" y2="393.39" stroke="#b81868" stroke-width="0.9" stroke-opacity="0.32"/>
<line x1="231.63" y1="384.00" x2="231.84" y2="393.90" stroke="#ff70b0" stroke-width="0.9" stroke-opacity="0.22"/>
<line x1="230.28" y1="383.94" x2="229.32" y2="393.50" stroke="#b81868" stroke-width="0.9" stroke-opacity="0.32"/>
<line x1="228.95" y1="383.73" x2="226.78" y2="393.39" stroke="#ff70b0" stroke-width="0.9" stroke-opacity="0.22"/>
<line x1="227.65" y1="383.35" x2="224.43" y2="392.40" stroke="#b81868" stroke-width="0.9" stroke-opacity="0.32"/>
<line x1="226.40" y1="382.82" x2="221.99" y2="391.68" stroke="#ff70b0" stroke-width="0.9" stroke-opacity="0.22"/>
<line x1="225.23" y1="382.15" x2="219.94" y2="390.16" stroke="#b81868" stroke-width="0.9" stroke-opacity="0.32"/>
<line x1="224.15" y1="381.34" x2="217.74" y2="388.88" stroke="#ff70b0" stroke-width="0.9" stroke-opacity="0.22"/>
<line x1="223.17" y1="380.40" x2="216.12" y2="386.91" stroke="#b81868" stroke-width="0.9" stroke-opacity="0.32"/>
<line x1="222.32" y1="379.35" x2="214.29" y2="385.15" stroke="#ff70b0" stroke-width="0.9" stroke-opacity="0.22"/>
<line x1="221.59" y1="378.21" x2="213.19" y2="382.85" stroke="#b81868" stroke-width="0.9" stroke-opacity="0.32"/>
<line x1="221.01" y1="376.99" x2="211.83" y2="380.69" stroke="#ff70b0" stroke-width="0.9" stroke-opacity="0.22"/>
<line x1="220.58" y1="375.71" x2="211.31" y2="378.20" stroke="#b81868" stroke-width="0.9" stroke-opacity="0.32"/>
<line x1="220.31" y1="374.38" x2="210.51" y2="375.78" stroke="#ff70b0" stroke-width="0.9" stroke-opacity="0.22"/>
<line x1="220.20" y1="373.03" x2="210.60" y2="373.23" stroke="#b81868" stroke-width="0.9" stroke-opacity="0.32"/>
<line x1="220.26" y1="371.68" x2="210.41" y2="370.69" stroke="#ff70b0" stroke-width="0.9" stroke-opacity="0.22"/>
<line x1="220.47" y1="370.35" x2="211.11" y2="368.24" stroke="#b81868" stroke-width="0.9" stroke-opacity="0.32"/>
<line x1="220.85" y1="369.05" x2="211.52" y2="365.73" stroke="#ff70b0" stroke-width="0.9" stroke-opacity="0.22"/>
<line x1="221.38" y1="367.80" x2="212.79" y2="363.52" stroke="#b81868" stroke-width="0.9" stroke-opacity="0.32"/>
<line x1="222.05" y1="366.63" x2="213.79" y2="361.18" stroke="#ff70b0" stroke-width="0.9" stroke-opacity="0.22"/>
<line x1="222.86" y1="365.55" x2="215.55" y2="359.33" stroke="#b81868" stroke-width="0.9" stroke-opacity="0.32"/>
<line x1="223.80" y1="364.57" x2="217.08" y2="357.30" stroke="#ff70b0" stroke-width="0.9" stroke-opacity="0.22"/>
<line x1="224.85" y1="363.72" x2="219.23" y2="355.93" stroke="#b81868" stroke-width="0.9" stroke-opacity="0.32"/>
<line x1="225.99" y1="362.99" x2="221.21" y2="354.33" stroke="#ff70b0" stroke-width="0.9" stroke-opacity="0.22"/>
<line x1="227.21" y1="362.41" x2="223.62" y2="353.51" stroke="#b81868" stroke-width="0.9" stroke-opacity="0.32"/>
<line x1="228.49" y1="361.98" x2="225.92" y2="352.42" stroke="#ff70b0" stroke-width="0.9" stroke-opacity="0.22"/>
<line x1="229.82" y1="361.71" x2="228.46" y2="352.21" stroke="#b81868" stroke-width="0.9" stroke-opacity="0.32"/>
<line x1="231.17" y1="361.60" x2="230.96" y2="351.70" stroke="#ff70b0" stroke-width="0.9" stroke-opacity="0.22"/>
<line x1="232.52" y1="361.66" x2="233.48" y2="352.10" stroke="#b81868" stroke-width="0.9" stroke-opacity="0.32"/>
<line x1="233.85" y1="361.87" x2="236.02" y2="352.21" stroke="#ff70b0" stroke-width="0.9" stroke-opacity="0.22"/>
<line x1="235.15" y1="362.25" x2="238.37" y2="353.20" stroke="#b81868" stroke-width="0.9" stroke-opacity="0.32"/>
<line x1="236.40" y1="362.78" x2="240.81" y2="353.92" stroke="#ff70b0" stroke-width="0.9" stroke-opacity="0.22"/>
<line x1="237.57" y1="363.45" x2="242.86" y2="355.44" stroke="#b81868" stroke-width="0.9" stroke-opacity="0.32"/>
<line x1="238.65" y1="364.26" x2="245.06" y2="356.72" stroke="#ff70b0" stroke-width="0.9" stroke-opacity="0.22"/>
<line x1="239.63" y1="365.20" x2="246.68" y2="358.69" stroke="#b81868" stroke-width="0.9" stroke-opacity="0.32"/>
<line x1="240.48" y1="366.25" x2="248.51" y2="360.45" stroke="#ff70b0" stroke-width="0.9" stroke-opacity="0.22"/>
<line x1="241.21" y1="367.39" x2="249.61" y2="362.75" stroke="#b81868" stroke-width="0.9" stroke-opacity="0.32"/>
<line x1="241.79" y1="368.61" x2="250.97" y2="364.91" stroke="#ff70b0" stroke-width="0.9" stroke-opacity="0.22"/>
<line x1="242.22" y1="369.89" x2="251.49" y2="367.40" stroke="#b81868" stroke-width="0.9" stroke-opacity="0.32"/>
<line x1="242.49" y1="371.22" x2="252.29" y2="369.82" stroke="#ff70b0" stroke-width="0.9" stroke-opacity="0.22"/>
<line x1="242.60" y1="372.57" x2="252.20" y2="372.37" stroke="#b81868" stroke-width="0.9" stroke-opacity="0.32"/>
<line x1="242.54" y1="373.92" x2="252.39" y2="374.91" stroke="#ff70b0" stroke-width="0.9" stroke-opacity="0.22"/>
<circle cx="231.4" cy="372.8" r="21.400000000000002" fill="url(#rim)"/>
</g><g filter="url(#s)">
<circle cx="231.7" cy="373" r="11.2" fill="#a83070"/>
<circle cx="231.7" cy="373" r="9.45" fill="none" stroke="#ececec" stroke-width="3.50" stroke-dasharray="1.134 1.565"/>
<circle cx="231.7" cy="373" r="8.05" fill="#59626a" fill-opacity="0.75"/>
<circle cx="231.7" cy="373" r="7.7" fill="url(#hub)"/>
<circle cx="232.00" cy="373.00" r="1.0" fill="#fff"/>
<circle cx="234.50" cy="376.60" r="1.3" fill="#fff"/>
</g>
<text x="214.50" y="345.30" font-size="5.8" class="lb" textLength="33.80" lengthAdjust="spacingAndGlyphs">Pink Mill Treat</text>
<g filter="url(#s2)">
<polygon points="323.79,376.16 322.69,378.58 322.65,381.24 321.00,383.33 320.33,385.90 318.23,387.53 316.96,389.87 314.53,390.95 312.73,392.91 310.12,393.38 307.90,394.86 305.25,394.69 302.75,395.60 300.21,394.80 297.57,395.08 295.30,393.69 292.66,393.33 290.79,391.44 288.32,390.46 286.95,388.18 284.78,386.64 284.00,384.10 282.27,382.08 282.12,379.42 280.92,377.05 281.40,374.44 280.81,371.84 281.91,369.42 281.95,366.76 283.60,364.67 284.27,362.10 286.37,360.47 287.64,358.13 290.07,357.05 291.87,355.09 294.48,354.62 296.70,353.14 299.35,353.31 301.85,352.40 304.39,353.20 307.03,352.92 309.30,354.31 311.94,354.67 313.81,356.56 316.28,357.54 317.65,359.82 319.82,361.36 320.60,363.90 322.33,365.92 322.48,368.58 323.68,370.95 323.20,373.56" fill="#FAC828" stroke="#FAC828" stroke-width="0.6" stroke-linejoin="round"/>
<line x1="313.23" y1="376.45" x2="322.59" y2="378.56" stroke="#d89a00" stroke-width="0.9" stroke-opacity="0.32"/>
<line x1="312.85" y1="377.75" x2="322.18" y2="381.07" stroke="#ffe680" stroke-width="0.9" stroke-opacity="0.22"/>
<line x1="312.32" y1="379.00" x2="320.91" y2="383.28" stroke="#d89a00" stroke-width="0.9" stroke-opacity="0.32"/>
<line x1="311.65" y1="380.17" x2="319.91" y2="385.62" stroke="#ffe680" stroke-width="0.9" stroke-opacity="0.22"/>
<line x1="310.84" y1="381.25" x2="318.15" y2="387.47" stroke="#d89a00" stroke-width="0.9" stroke-opacity="0.32"/>
<line x1="309.90" y1="382.23" x2="316.62" y2="389.50" stroke="#ffe680" stroke-width="0.9" stroke-opacity="0.22"/>
<line x1="308.85" y1="383.08" x2="314.47" y2="390.87" stroke="#d89a00" stroke-width="0.9" stroke-opacity="0.32"/>
<line x1="307.71" y1="383.81" x2="312.49" y2="392.47" stroke="#ffe680" stroke-width="0.9" stroke-opacity="0.22"/>
<line x1="306.49" y1="384.39" x2="310.08" y2="393.29" stroke="#d89a00" stroke-width="0.9" stroke-opacity="0.32"/>
<line x1="305.21" y1="384.82" x2="307.78" y2="394.38" stroke="#ffe680" stroke-width="0.9" stroke-opacity="0.22"/>
<line x1="303.88" y1="385.09" x2="305.24" y2="394.59" stroke="#d89a00" stroke-width="0.9" stroke-opacity="0.32"/>
<line x1="302.53" y1="385.20" x2="302.74" y2="395.10" stroke="#ffe680" stroke-width="0.9" stroke-opacity="0.22"/>
<line x1="301.18" y1="385.14" x2="300.22" y2="394.70" stroke="#d89a00" stroke-width="0.9" stroke-opacity="0.32"/>
<line x1="299.85" y1="384.93" x2="297.68" y2="394.59" stroke="#ffe680" stroke-width="0.9" stroke-opacity="0.22"/>
<line x1="298.55" y1="384.55" x2="295.33" y2="393.60" stroke="#d89a00" stroke-width="0.9" stroke-opacity="0.32"/>
<line x1="297.30" y1="384.02" x2="292.89" y2="392.88" stroke="#ffe680" stroke-width="0.9" stroke-opacity="0.22"/>
<line x1="296.13" y1="383.35" x2="290.84" y2="391.36" stroke="#d89a00" stroke-width="0.9" stroke-opacity="0.32"/>
<line x1="295.05" y1="382.54" x2="288.64" y2="390.08" stroke="#ffe680" stroke-width="0.9" stroke-opacity="0.22"/>
<line x1="294.07" y1="381.60" x2="287.02" y2="388.11" stroke="#d89a00" stroke-width="0.9" stroke-opacity="0.32"/>
<line x1="293.22" y1="380.55" x2="285.19" y2="386.35" stroke="#ffe680" stroke-width="0.9" stroke-opacity="0.22"/>
<line x1="292.49" y1="379.41" x2="284.09" y2="384.05" stroke="#d89a00" stroke-width="0.9" stroke-opacity="0.32"/>
<line x1="291.91" y1="378.19" x2="282.73" y2="381.89" stroke="#ffe680" stroke-width="0.9" stroke-opacity="0.22"/>
<line x1="291.48" y1="376.91" x2="282.21" y2="379.40" stroke="#d89a00" stroke-width="0.9" stroke-opacity="0.32"/>
<line x1="291.21" y1="375.58" x2="281.41" y2="376.98" stroke="#ffe680" stroke-width="0.9" stroke-opacity="0.22"/>
<line x1="291.10" y1="374.23" x2="281.50" y2="374.43" stroke="#d89a00" stroke-width="0.9" stroke-opacity="0.32"/>
<line x1="291.16" y1="372.88" x2="281.31" y2="371.89" stroke="#ffe680" stroke-width="0.9" stroke-opacity="0.22"/>
<line x1="291.37" y1="371.55" x2="282.01" y2="369.44" stroke="#d89a00" stroke-width="0.9" stroke-opacity="0.32"/>
<line x1="291.75" y1="370.25" x2="282.42" y2="366.93" stroke="#ffe680" stroke-width="0.9" stroke-opacity="0.22"/>
<line x1="292.28" y1="369.00" x2="283.69" y2="364.72" stroke="#d89a00" stroke-width="0.9" stroke-opacity="0.32"/>
<line x1="292.95" y1="367.83" x2="284.69" y2="362.38" stroke="#ffe680" stroke-width="0.9" stroke-opacity="0.22"/>
<line x1="293.76" y1="366.75" x2="286.45" y2="360.53" stroke="#d89a00" stroke-width="0.9" stroke-opacity="0.32"/>
<line x1="294.70" y1="365.77" x2="287.98" y2="358.50" stroke="#ffe680" stroke-width="0.9" stroke-opacity="0.22"/>
<line x1="295.75" y1="364.92" x2="290.13" y2="357.13" stroke="#d89a00" stroke-width="0.9" stroke-opacity="0.32"/>
<line x1="296.89" y1="364.19" x2="292.11" y2="355.53" stroke="#ffe680" stroke-width="0.9" stroke-opacity="0.22"/>
<line x1="298.11" y1="363.61" x2="294.52" y2="354.71" stroke="#d89a00" stroke-width="0.9" stroke-opacity="0.32"/>
<line x1="299.39" y1="363.18" x2="296.82" y2="353.62" stroke="#ffe680" stroke-width="0.9" stroke-opacity="0.22"/>
<line x1="300.72" y1="362.91" x2="299.36" y2="353.41" stroke="#d89a00" stroke-width="0.9" stroke-opacity="0.32"/>
<line x1="302.07" y1="362.80" x2="301.86" y2="352.90" stroke="#ffe680" stroke-width="0.9" stroke-opacity="0.22"/>
<line x1="303.42" y1="362.86" x2="304.38" y2="353.30" stroke="#d89a00" stroke-width="0.9" stroke-opacity="0.32"/>
<line x1="304.75" y1="363.07" x2="306.92" y2="353.41" stroke="#ffe680" stroke-width="0.9" stroke-opacity="0.22"/>
<line x1="306.05" y1="363.45" x2="309.27" y2="354.40" stroke="#d89a00" stroke-width="0.9" stroke-opacity="0.32"/>
<line x1="307.30" y1="363.98" x2="311.71" y2="355.12" stroke="#ffe680" stroke-width="0.9" stroke-opacity="0.22"/>
<line x1="308.47" y1="364.65" x2="313.76" y2="356.64" stroke="#d89a00" stroke-width="0.9" stroke-opacity="0.32"/>
<line x1="309.55" y1="365.46" x2="315.96" y2="357.92" stroke="#ffe680" stroke-width="0.9" stroke-opacity="0.22"/>
<line x1="310.53" y1="366.40" x2="317.58" y2="359.89" stroke="#d89a00" stroke-width="0.9" stroke-opacity="0.32"/>
<line x1="311.38" y1="367.45" x2="319.41" y2="361.65" stroke="#ffe680" stroke-width="0.9" stroke-opacity="0.22"/>
<line x1="312.11" y1="368.59" x2="320.51" y2="363.95" stroke="#d89a00" stroke-width="0.9" stroke-opacity="0.32"/>
<line x1="312.69" y1="369.81" x2="321.87" y2="366.11" stroke="#ffe680" stroke-width="0.9" stroke-opacity="0.22"/>
<line x1="313.12" y1="371.09" x2="322.39" y2="368.60" stroke="#d89a00" stroke-width="0.9" stroke-opacity="0.32"/>
<line x1="313.39" y1="372.42" x2="323.19" y2="371.02" stroke="#ffe680" stroke-width="0.9" stroke-opacity="0.22"/>
<line x1="313.50" y1="373.77" x2="323.10" y2="373.57" stroke="#d89a00" stroke-width="0.9" stroke-opacity="0.32"/>
<line x1="313.44" y1="375.12" x2="323.29" y2="376.11" stroke="#ffe680" stroke-width="0.9" stroke-opacity="0.22"/>
<circle cx="302.3" cy="374" r="21.400000000000002" fill="url(#rim)"/>
</g><g filter="url(#s)">
<circle cx="302" cy="374" r="11.2" fill="#c09a30"/>
<circle cx="302" cy="374" r="9.05" fill="none" stroke="#f6f6f0" stroke-width="4.30" stroke-dasharray="1.086 1.499"/>
<circle cx="302" cy="374" r="7.25" fill="#59626a" fill-opacity="0.75"/>
<circle cx="302" cy="374" r="6.9" fill="url(#hubl)"/>
<circle cx="302.00" cy="374.00" r="1.0" fill="#fff"/>
<circle cx="302.30" cy="378.60" r="1.2" fill="#fff"/>
</g>
<text x="283.00" y="345.30" font-size="5.8" class="lb" textLength="39.00" lengthAdjust="spacingAndGlyphs">Yellow Mill Treat</text>
<g filter="url(#s2)">
<polygon points="394.59,376.07 393.49,378.50 393.45,381.17 391.79,383.27 391.11,385.85 389.01,387.50 387.72,389.84 385.29,390.93 383.48,392.90 380.85,393.38 378.63,394.86 375.96,394.69 373.45,395.60 370.90,394.80 368.25,395.07 365.96,393.69 363.32,393.32 361.43,391.43 358.95,390.44 357.57,388.15 355.40,386.60 354.61,384.04 352.87,382.02 352.72,379.35 351.52,376.96 352.00,374.34 351.41,371.73 352.51,369.30 352.55,366.63 354.21,364.53 354.89,361.95 356.99,360.30 358.28,357.96 360.71,356.87 362.52,354.90 365.15,354.42 367.37,352.94 370.04,353.11 372.55,352.20 375.10,353.00 377.75,352.73 380.04,354.11 382.68,354.48 384.57,356.37 387.05,357.36 388.43,359.65 390.60,361.20 391.39,363.76 393.13,365.78 393.28,368.45 394.48,370.84 394.00,373.46" fill="#8461C8" stroke="#8461C8" stroke-width="0.6" stroke-linejoin="round"/>
<line x1="382.07" y1="375.94" x2="393.39" y2="378.48" stroke="#50309a" stroke-width="0.9" stroke-opacity="0.32"/>
<line x1="381.76" y1="377.02" x2="392.97" y2="381.00" stroke="#a890e0" stroke-width="0.9" stroke-opacity="0.22"/>
<line x1="381.32" y1="378.05" x2="391.70" y2="383.23" stroke="#50309a" stroke-width="0.9" stroke-opacity="0.32"/>
<line x1="380.76" y1="379.02" x2="390.69" y2="385.58" stroke="#a890e0" stroke-width="0.9" stroke-opacity="0.22"/>
<line x1="380.09" y1="379.92" x2="388.93" y2="387.43" stroke="#50309a" stroke-width="0.9" stroke-opacity="0.32"/>
<line x1="379.31" y1="380.73" x2="387.39" y2="389.47" stroke="#a890e0" stroke-width="0.9" stroke-opacity="0.22"/>
<line x1="378.44" y1="381.44" x2="385.23" y2="390.85" stroke="#50309a" stroke-width="0.9" stroke-opacity="0.32"/>
<line x1="377.49" y1="382.04" x2="383.24" y2="392.46" stroke="#a890e0" stroke-width="0.9" stroke-opacity="0.22"/>
<line x1="376.48" y1="382.53" x2="380.82" y2="393.28" stroke="#50309a" stroke-width="0.9" stroke-opacity="0.32"/>
<line x1="375.41" y1="382.88" x2="378.50" y2="394.37" stroke="#a890e0" stroke-width="0.9" stroke-opacity="0.22"/>
<line x1="374.31" y1="383.11" x2="375.95" y2="394.59" stroke="#50309a" stroke-width="0.9" stroke-opacity="0.32"/>
<line x1="373.19" y1="383.20" x2="373.44" y2="395.10" stroke="#a890e0" stroke-width="0.9" stroke-opacity="0.22"/>
<line x1="372.07" y1="383.15" x2="370.91" y2="394.70" stroke="#50309a" stroke-width="0.9" stroke-opacity="0.32"/>
<line x1="370.96" y1="382.97" x2="368.36" y2="394.59" stroke="#a890e0" stroke-width="0.9" stroke-opacity="0.22"/>
<line x1="369.88" y1="382.66" x2="366.00" y2="393.59" stroke="#50309a" stroke-width="0.9" stroke-opacity="0.32"/>
<line x1="368.85" y1="382.22" x2="363.54" y2="392.87" stroke="#a890e0" stroke-width="0.9" stroke-opacity="0.22"/>
<line x1="367.88" y1="381.66" x2="361.49" y2="391.34" stroke="#50309a" stroke-width="0.9" stroke-opacity="0.32"/>
<line x1="366.98" y1="380.99" x2="359.28" y2="390.06" stroke="#a890e0" stroke-width="0.9" stroke-opacity="0.22"/>
<line x1="366.17" y1="380.21" x2="357.65" y2="388.08" stroke="#50309a" stroke-width="0.9" stroke-opacity="0.32"/>
<line x1="365.46" y1="379.34" x2="355.81" y2="386.30" stroke="#a890e0" stroke-width="0.9" stroke-opacity="0.22"/>
<line x1="364.86" y1="378.39" x2="354.70" y2="384.00" stroke="#50309a" stroke-width="0.9" stroke-opacity="0.32"/>
<line x1="364.37" y1="377.38" x2="353.34" y2="381.83" stroke="#a890e0" stroke-width="0.9" stroke-opacity="0.22"/>
<line x1="364.02" y1="376.31" x2="352.82" y2="379.32" stroke="#50309a" stroke-width="0.9" stroke-opacity="0.32"/>
<line x1="363.79" y1="375.21" x2="352.01" y2="376.89" stroke="#a890e0" stroke-width="0.9" stroke-opacity="0.22"/>
<line x1="363.70" y1="374.09" x2="352.10" y2="374.34" stroke="#50309a" stroke-width="0.9" stroke-opacity="0.32"/>
<line x1="363.75" y1="372.97" x2="351.91" y2="371.78" stroke="#a890e0" stroke-width="0.9" stroke-opacity="0.22"/>
<line x1="363.93" y1="371.86" x2="352.61" y2="369.32" stroke="#50309a" stroke-width="0.9" stroke-opacity="0.32"/>
<line x1="364.24" y1="370.78" x2="353.03" y2="366.80" stroke="#a890e0" stroke-width="0.9" stroke-opacity="0.22"/>
<line x1="364.68" y1="369.75" x2="354.30" y2="364.57" stroke="#50309a" stroke-width="0.9" stroke-opacity="0.32"/>
<line x1="365.24" y1="368.78" x2="355.31" y2="362.22" stroke="#a890e0" stroke-width="0.9" stroke-opacity="0.22"/>
<line x1="365.91" y1="367.88" x2="357.07" y2="360.37" stroke="#50309a" stroke-width="0.9" stroke-opacity="0.32"/>
<line x1="366.69" y1="367.07" x2="358.61" y2="358.33" stroke="#a890e0" stroke-width="0.9" stroke-opacity="0.22"/>
<line x1="367.56" y1="366.36" x2="360.77" y2="356.95" stroke="#50309a" stroke-width="0.9" stroke-opacity="0.32"/>
<line x1="368.51" y1="365.76" x2="362.76" y2="355.34" stroke="#a890e0" stroke-width="0.9" stroke-opacity="0.22"/>
<line x1="369.52" y1="365.27" x2="365.18" y2="354.52" stroke="#50309a" stroke-width="0.9" stroke-opacity="0.32"/>
<line x1="370.59" y1="364.92" x2="367.50" y2="353.43" stroke="#a890e0" stroke-width="0.9" stroke-opacity="0.22"/>
<line x1="371.69" y1="364.69" x2="370.05" y2="353.21" stroke="#50309a" stroke-width="0.9" stroke-opacity="0.32"/>
<line x1="372.81" y1="364.60" x2="372.56" y2="352.70" stroke="#a890e0" stroke-width="0.9" stroke-opacity="0.22"/>
<line x1="373.93" y1="364.65" x2="375.09" y2="353.10" stroke="#50309a" stroke-width="0.9" stroke-opacity="0.32"/>
<line x1="375.04" y1="364.83" x2="377.64" y2="353.21" stroke="#a890e0" stroke-width="0.9" stroke-opacity="0.22"/>
<line x1="376.12" y1="365.14" x2="380.00" y2="354.21" stroke="#50309a" stroke-width="0.9" stroke-opacity="0.32"/>
<line x1="377.15" y1="365.58" x2="382.46" y2="354.93" stroke="#a890e0" stroke-width="0.9" stroke-opacity="0.22"/>
<line x1="378.12" y1="366.14" x2="384.51" y2="356.46" stroke="#50309a" stroke-width="0.9" stroke-opacity="0.32"/>
<line x1="379.02" y1="366.81" x2="386.72" y2="357.74" stroke="#a890e0" stroke-width="0.9" stroke-opacity="0.22"/>
<line x1="379.83" y1="367.59" x2="388.35" y2="359.72" stroke="#50309a" stroke-width="0.9" stroke-opacity="0.32"/>
<line x1="380.54" y1="368.46" x2="390.19" y2="361.50" stroke="#a890e0" stroke-width="0.9" stroke-opacity="0.22"/>
<line x1="381.14" y1="369.41" x2="391.30" y2="363.80" stroke="#50309a" stroke-width="0.9" stroke-opacity="0.32"/>
<line x1="381.63" y1="370.42" x2="392.66" y2="365.97" stroke="#a890e0" stroke-width="0.9" stroke-opacity="0.22"/>
<line x1="381.98" y1="371.49" x2="393.18" y2="368.48" stroke="#50309a" stroke-width="0.9" stroke-opacity="0.32"/>
<line x1="382.21" y1="372.59" x2="393.99" y2="370.91" stroke="#a890e0" stroke-width="0.9" stroke-opacity="0.22"/>
<line x1="382.30" y1="373.71" x2="393.90" y2="373.46" stroke="#50309a" stroke-width="0.9" stroke-opacity="0.32"/>
<line x1="382.25" y1="374.83" x2="394.09" y2="376.02" stroke="#a890e0" stroke-width="0.9" stroke-opacity="0.22"/>
<circle cx="373" cy="373.9" r="21.5" fill="url(#rim)"/>
</g><g filter="url(#s)">
<circle cx="373" cy="374.1" r="9.3" fill="#6a50a8"/>
<circle cx="373" cy="374.1" r="7.70" fill="none" stroke="#eeeef6" stroke-width="3.20" stroke-dasharray="0.924 1.275"/>
<circle cx="373" cy="374.1" r="6.449999999999999" fill="#59626a" fill-opacity="0.75"/>
<circle cx="373" cy="374.1" r="6.1" fill="url(#hubl)"/>
<circle cx="373.20" cy="374.30" r="0.9" fill="#fff"/>
<circle cx="372.50" cy="378.10" r="1.0" fill="#fff"/>
<circle cx="376.60" cy="373.50" r="0.8" fill="#fff"/>
</g>
<text x="353.30" y="345.30" font-size="5.8" class="lb" textLength="39.20" lengthAdjust="spacingAndGlyphs">Purple Mill Treat</text>
<g filter="url(#s2)">
<polygon points="459.90,377.40 458.81,379.75 458.79,382.34 457.17,384.36 456.53,386.87 454.47,388.44 453.25,390.73 450.88,391.76 449.14,393.69 446.59,394.13 444.45,395.58 441.87,395.40 439.44,396.30 436.97,395.50 434.40,395.79 432.20,394.43 429.63,394.09 427.82,392.24 425.40,391.31 424.09,389.07 421.97,387.59 421.23,385.11 419.52,383.15 419.40,380.57 418.21,378.26 418.70,375.72 418.10,373.20 419.19,370.85 419.21,368.26 420.83,366.24 421.47,363.73 423.53,362.16 424.75,359.87 427.12,358.84 428.86,356.91 431.41,356.47 433.55,355.02 436.13,355.20 438.56,354.30 441.03,355.10 443.60,354.81 445.80,356.17 448.37,356.51 450.18,358.36 452.60,359.29 453.91,361.53 456.03,363.01 456.77,365.49 458.48,367.45 458.60,370.03 459.79,372.34 459.30,374.88" fill="#EAE4C6" stroke="#EAE4C6" stroke-width="0.6" stroke-linejoin="round"/>
<line x1="449.64" y1="377.69" x2="458.71" y2="379.72" stroke="#b4aa84" stroke-width="0.9" stroke-opacity="0.32"/>
<line x1="449.27" y1="378.95" x2="458.32" y2="382.17" stroke="#fffdf0" stroke-width="0.9" stroke-opacity="0.22"/>
<line x1="448.75" y1="380.16" x2="457.08" y2="384.31" stroke="#b4aa84" stroke-width="0.9" stroke-opacity="0.32"/>
<line x1="448.10" y1="381.30" x2="456.11" y2="386.59" stroke="#fffdf0" stroke-width="0.9" stroke-opacity="0.22"/>
<line x1="447.31" y1="382.36" x2="454.40" y2="388.38" stroke="#b4aa84" stroke-width="0.9" stroke-opacity="0.32"/>
<line x1="446.40" y1="383.31" x2="452.91" y2="390.36" stroke="#fffdf0" stroke-width="0.9" stroke-opacity="0.22"/>
<line x1="445.38" y1="384.14" x2="450.82" y2="391.68" stroke="#b4aa84" stroke-width="0.9" stroke-opacity="0.32"/>
<line x1="444.27" y1="384.84" x2="448.90" y2="393.25" stroke="#fffdf0" stroke-width="0.9" stroke-opacity="0.22"/>
<line x1="443.08" y1="385.41" x2="446.55" y2="394.03" stroke="#b4aa84" stroke-width="0.9" stroke-opacity="0.32"/>
<line x1="441.83" y1="385.83" x2="444.32" y2="395.10" stroke="#fffdf0" stroke-width="0.9" stroke-opacity="0.22"/>
<line x1="440.54" y1="386.09" x2="441.85" y2="395.30" stroke="#b4aa84" stroke-width="0.9" stroke-opacity="0.32"/>
<line x1="439.23" y1="386.20" x2="439.43" y2="395.80" stroke="#fffdf0" stroke-width="0.9" stroke-opacity="0.22"/>
<line x1="437.91" y1="386.15" x2="436.98" y2="395.40" stroke="#b4aa84" stroke-width="0.9" stroke-opacity="0.32"/>
<line x1="436.61" y1="385.94" x2="434.51" y2="395.30" stroke="#fffdf0" stroke-width="0.9" stroke-opacity="0.22"/>
<line x1="435.35" y1="385.57" x2="432.23" y2="394.33" stroke="#b4aa84" stroke-width="0.9" stroke-opacity="0.32"/>
<line x1="434.14" y1="385.05" x2="429.85" y2="393.65" stroke="#fffdf0" stroke-width="0.9" stroke-opacity="0.22"/>
<line x1="433.00" y1="384.40" x2="427.87" y2="392.16" stroke="#b4aa84" stroke-width="0.9" stroke-opacity="0.32"/>
<line x1="431.94" y1="383.61" x2="425.73" y2="390.92" stroke="#fffdf0" stroke-width="0.9" stroke-opacity="0.22"/>
<line x1="430.99" y1="382.70" x2="424.16" y2="389.01" stroke="#b4aa84" stroke-width="0.9" stroke-opacity="0.32"/>
<line x1="430.16" y1="381.68" x2="422.38" y2="387.29" stroke="#fffdf0" stroke-width="0.9" stroke-opacity="0.22"/>
<line x1="429.46" y1="380.57" x2="421.31" y2="385.06" stroke="#b4aa84" stroke-width="0.9" stroke-opacity="0.32"/>
<line x1="428.89" y1="379.38" x2="419.99" y2="382.97" stroke="#fffdf0" stroke-width="0.9" stroke-opacity="0.22"/>
<line x1="428.47" y1="378.13" x2="419.49" y2="380.54" stroke="#b4aa84" stroke-width="0.9" stroke-opacity="0.32"/>
<line x1="428.21" y1="376.84" x2="418.71" y2="378.19" stroke="#fffdf0" stroke-width="0.9" stroke-opacity="0.22"/>
<line x1="428.10" y1="375.53" x2="418.80" y2="375.72" stroke="#b4aa84" stroke-width="0.9" stroke-opacity="0.32"/>
<line x1="428.15" y1="374.21" x2="418.60" y2="373.25" stroke="#fffdf0" stroke-width="0.9" stroke-opacity="0.22"/>
<line x1="428.36" y1="372.91" x2="419.29" y2="370.88" stroke="#b4aa84" stroke-width="0.9" stroke-opacity="0.32"/>
<line x1="428.73" y1="371.65" x2="419.68" y2="368.43" stroke="#fffdf0" stroke-width="0.9" stroke-opacity="0.22"/>
<line x1="429.25" y1="370.44" x2="420.92" y2="366.29" stroke="#b4aa84" stroke-width="0.9" stroke-opacity="0.32"/>
<line x1="429.90" y1="369.30" x2="421.89" y2="364.01" stroke="#fffdf0" stroke-width="0.9" stroke-opacity="0.22"/>
<line x1="430.69" y1="368.24" x2="423.60" y2="362.22" stroke="#b4aa84" stroke-width="0.9" stroke-opacity="0.32"/>
<line x1="431.60" y1="367.29" x2="425.09" y2="360.24" stroke="#fffdf0" stroke-width="0.9" stroke-opacity="0.22"/>
<line x1="432.62" y1="366.46" x2="427.18" y2="358.92" stroke="#b4aa84" stroke-width="0.9" stroke-opacity="0.32"/>
<line x1="433.73" y1="365.76" x2="429.10" y2="357.35" stroke="#fffdf0" stroke-width="0.9" stroke-opacity="0.22"/>
<line x1="434.92" y1="365.19" x2="431.45" y2="356.57" stroke="#b4aa84" stroke-width="0.9" stroke-opacity="0.32"/>
<line x1="436.17" y1="364.77" x2="433.68" y2="355.50" stroke="#fffdf0" stroke-width="0.9" stroke-opacity="0.22"/>
<line x1="437.46" y1="364.51" x2="436.15" y2="355.30" stroke="#b4aa84" stroke-width="0.9" stroke-opacity="0.32"/>
<line x1="438.77" y1="364.40" x2="438.57" y2="354.80" stroke="#fffdf0" stroke-width="0.9" stroke-opacity="0.22"/>
<line x1="440.09" y1="364.45" x2="441.02" y2="355.20" stroke="#b4aa84" stroke-width="0.9" stroke-opacity="0.32"/>
<line x1="441.39" y1="364.66" x2="443.49" y2="355.30" stroke="#fffdf0" stroke-width="0.9" stroke-opacity="0.22"/>
<line x1="442.65" y1="365.03" x2="445.77" y2="356.27" stroke="#b4aa84" stroke-width="0.9" stroke-opacity="0.32"/>
<line x1="443.86" y1="365.55" x2="448.15" y2="356.95" stroke="#fffdf0" stroke-width="0.9" stroke-opacity="0.22"/>
<line x1="445.00" y1="366.20" x2="450.13" y2="358.44" stroke="#b4aa84" stroke-width="0.9" stroke-opacity="0.32"/>
<line x1="446.06" y1="366.99" x2="452.27" y2="359.68" stroke="#fffdf0" stroke-width="0.9" stroke-opacity="0.22"/>
<line x1="447.01" y1="367.90" x2="453.84" y2="361.59" stroke="#b4aa84" stroke-width="0.9" stroke-opacity="0.32"/>
<line x1="447.84" y1="368.92" x2="455.62" y2="363.31" stroke="#fffdf0" stroke-width="0.9" stroke-opacity="0.22"/>
<line x1="448.54" y1="370.03" x2="456.69" y2="365.54" stroke="#b4aa84" stroke-width="0.9" stroke-opacity="0.32"/>
<line x1="449.11" y1="371.22" x2="458.01" y2="367.63" stroke="#fffdf0" stroke-width="0.9" stroke-opacity="0.22"/>
<line x1="449.53" y1="372.47" x2="458.51" y2="370.06" stroke="#b4aa84" stroke-width="0.9" stroke-opacity="0.32"/>
<line x1="449.79" y1="373.76" x2="459.29" y2="372.41" stroke="#fffdf0" stroke-width="0.9" stroke-opacity="0.22"/>
<line x1="449.90" y1="375.07" x2="459.20" y2="374.88" stroke="#b4aa84" stroke-width="0.9" stroke-opacity="0.32"/>
<line x1="449.85" y1="376.39" x2="459.40" y2="377.35" stroke="#fffdf0" stroke-width="0.9" stroke-opacity="0.22"/>
<circle cx="439" cy="375.3" r="20.8" fill="url(#rimw)"/>
</g><g filter="url(#s)">
<circle cx="438.7" cy="375" r="10.9" fill="#e4e0c8"/>
<circle cx="438.7" cy="375" r="9.05" fill="none" stroke="#6fa6cc" stroke-width="3.70" stroke-dasharray="0.879 1.706"/>
<circle cx="438.7" cy="375" r="7.55" fill="#59626a" fill-opacity="0.75"/>
<circle cx="438.7" cy="375" r="7.2" fill="url(#hubb)"/>
<circle cx="437.40" cy="370.00" r="0.9" fill="#fff"/>
<circle cx="438.70" cy="375.00" r="1.1" fill="#fff"/>
<circle cx="435.20" cy="378.60" r="0.9" fill="#fff"/>
</g>
<g filter="url(#s3)">
<polygon points="517.09,377.22 515.98,379.71 515.92,382.44 514.24,384.59 513.53,387.23 511.39,388.92 510.06,391.31 507.58,392.44 505.72,394.44 503.04,394.94 500.76,396.44 498.04,396.28 495.46,397.20 492.85,396.39 490.14,396.66 487.80,395.26 485.09,394.87 483.16,392.94 480.63,391.92 479.21,389.59 477.00,387.99 476.17,385.39 474.41,383.30 474.24,380.58 473.02,378.13 473.50,375.45 472.91,372.78 474.02,370.29 474.08,367.56 475.76,365.41 476.47,362.77 478.61,361.08 479.94,358.69 482.42,357.56 484.28,355.56 486.96,355.06 489.24,353.56 491.96,353.72 494.54,352.80 497.15,353.61 499.86,353.34 502.20,354.74 504.91,355.13 506.84,357.06 509.37,358.08 510.79,360.41 513.00,362.01 513.83,364.61 515.59,366.70 515.76,369.42 516.98,371.87 516.50,374.55" fill="#F1F0EC" stroke="#F1F0EC" stroke-width="0.6" stroke-linejoin="round"/>
<line x1="505.64" y1="377.39" x2="515.88" y2="379.69" stroke="#b4b2aa" stroke-width="0.9" stroke-opacity="0.32"/>
<line x1="505.27" y1="378.65" x2="515.45" y2="382.27" stroke="#ffffff" stroke-width="0.9" stroke-opacity="0.22"/>
<line x1="504.75" y1="379.86" x2="514.15" y2="384.55" stroke="#b4b2aa" stroke-width="0.9" stroke-opacity="0.32"/>
<line x1="504.10" y1="381.00" x2="513.11" y2="386.95" stroke="#ffffff" stroke-width="0.9" stroke-opacity="0.22"/>
<line x1="503.31" y1="382.06" x2="511.31" y2="388.85" stroke="#b4b2aa" stroke-width="0.9" stroke-opacity="0.32"/>
<line x1="502.40" y1="383.01" x2="509.72" y2="390.94" stroke="#ffffff" stroke-width="0.9" stroke-opacity="0.22"/>
<line x1="501.38" y1="383.84" x2="507.52" y2="392.35" stroke="#b4b2aa" stroke-width="0.9" stroke-opacity="0.32"/>
<line x1="500.27" y1="384.54" x2="505.48" y2="394.00" stroke="#ffffff" stroke-width="0.9" stroke-opacity="0.22"/>
<line x1="499.08" y1="385.11" x2="503.00" y2="394.85" stroke="#b4b2aa" stroke-width="0.9" stroke-opacity="0.32"/>
<line x1="497.83" y1="385.53" x2="500.63" y2="395.96" stroke="#ffffff" stroke-width="0.9" stroke-opacity="0.22"/>
<line x1="496.54" y1="385.79" x2="498.02" y2="396.19" stroke="#b4b2aa" stroke-width="0.9" stroke-opacity="0.32"/>
<line x1="495.23" y1="385.90" x2="495.45" y2="396.70" stroke="#ffffff" stroke-width="0.9" stroke-opacity="0.22"/>
<line x1="493.91" y1="385.85" x2="492.86" y2="396.29" stroke="#b4b2aa" stroke-width="0.9" stroke-opacity="0.32"/>
<line x1="492.61" y1="385.64" x2="490.25" y2="396.17" stroke="#ffffff" stroke-width="0.9" stroke-opacity="0.22"/>
<line x1="491.35" y1="385.27" x2="487.83" y2="395.16" stroke="#b4b2aa" stroke-width="0.9" stroke-opacity="0.32"/>
<line x1="490.14" y1="384.75" x2="485.32" y2="394.42" stroke="#ffffff" stroke-width="0.9" stroke-opacity="0.22"/>
<line x1="489.00" y1="384.10" x2="483.21" y2="392.86" stroke="#b4b2aa" stroke-width="0.9" stroke-opacity="0.32"/>
<line x1="487.94" y1="383.31" x2="480.95" y2="391.54" stroke="#ffffff" stroke-width="0.9" stroke-opacity="0.22"/>
<line x1="486.99" y1="382.40" x2="479.28" y2="389.52" stroke="#b4b2aa" stroke-width="0.9" stroke-opacity="0.32"/>
<line x1="486.16" y1="381.38" x2="477.40" y2="387.70" stroke="#ffffff" stroke-width="0.9" stroke-opacity="0.22"/>
<line x1="485.46" y1="380.27" x2="476.26" y2="385.34" stroke="#b4b2aa" stroke-width="0.9" stroke-opacity="0.32"/>
<line x1="484.89" y1="379.08" x2="474.87" y2="383.12" stroke="#ffffff" stroke-width="0.9" stroke-opacity="0.22"/>
<line x1="484.47" y1="377.83" x2="474.33" y2="380.55" stroke="#b4b2aa" stroke-width="0.9" stroke-opacity="0.32"/>
<line x1="484.21" y1="376.54" x2="473.52" y2="378.06" stroke="#ffffff" stroke-width="0.9" stroke-opacity="0.22"/>
<line x1="484.10" y1="375.23" x2="473.60" y2="375.45" stroke="#b4b2aa" stroke-width="0.9" stroke-opacity="0.32"/>
<line x1="484.15" y1="373.91" x2="473.41" y2="372.83" stroke="#ffffff" stroke-width="0.9" stroke-opacity="0.22"/>
<line x1="484.36" y1="372.61" x2="474.12" y2="370.31" stroke="#b4b2aa" stroke-width="0.9" stroke-opacity="0.32"/>
<line x1="484.73" y1="371.35" x2="474.55" y2="367.73" stroke="#ffffff" stroke-width="0.9" stroke-opacity="0.22"/>
<line x1="485.25" y1="370.14" x2="475.85" y2="365.45" stroke="#b4b2aa" stroke-width="0.9" stroke-opacity="0.32"/>
<line x1="485.90" y1="369.00" x2="476.89" y2="363.05" stroke="#ffffff" stroke-width="0.9" stroke-opacity="0.22"/>
<line x1="486.69" y1="367.94" x2="478.69" y2="361.15" stroke="#b4b2aa" stroke-width="0.9" stroke-opacity="0.32"/>
<line x1="487.60" y1="366.99" x2="480.28" y2="359.06" stroke="#ffffff" stroke-width="0.9" stroke-opacity="0.22"/>
<line x1="488.62" y1="366.16" x2="482.48" y2="357.65" stroke="#b4b2aa" stroke-width="0.9" stroke-opacity="0.32"/>
<line x1="489.73" y1="365.46" x2="484.52" y2="356.00" stroke="#ffffff" stroke-width="0.9" stroke-opacity="0.22"/>
<line x1="490.92" y1="364.89" x2="487.00" y2="355.15" stroke="#b4b2aa" stroke-width="0.9" stroke-opacity="0.32"/>
<line x1="492.17" y1="364.47" x2="489.37" y2="354.04" stroke="#ffffff" stroke-width="0.9" stroke-opacity="0.22"/>
<line x1="493.46" y1="364.21" x2="491.98" y2="353.81" stroke="#b4b2aa" stroke-width="0.9" stroke-opacity="0.32"/>
<line x1="494.77" y1="364.10" x2="494.55" y2="353.30" stroke="#ffffff" stroke-width="0.9" stroke-opacity="0.22"/>
<line x1="496.09" y1="364.15" x2="497.14" y2="353.71" stroke="#b4b2aa" stroke-width="0.9" stroke-opacity="0.32"/>
<line x1="497.39" y1="364.36" x2="499.75" y2="353.83" stroke="#ffffff" stroke-width="0.9" stroke-opacity="0.22"/>
<line x1="498.65" y1="364.73" x2="502.17" y2="354.84" stroke="#b4b2aa" stroke-width="0.9" stroke-opacity="0.32"/>
<line x1="499.86" y1="365.25" x2="504.68" y2="355.58" stroke="#ffffff" stroke-width="0.9" stroke-opacity="0.22"/>
<line x1="501.00" y1="365.90" x2="506.79" y2="357.14" stroke="#b4b2aa" stroke-width="0.9" stroke-opacity="0.32"/>
<line x1="502.06" y1="366.69" x2="509.05" y2="358.46" stroke="#ffffff" stroke-width="0.9" stroke-opacity="0.22"/>
<line x1="503.01" y1="367.60" x2="510.72" y2="360.48" stroke="#b4b2aa" stroke-width="0.9" stroke-opacity="0.32"/>
<line x1="503.84" y1="368.62" x2="512.60" y2="362.30" stroke="#ffffff" stroke-width="0.9" stroke-opacity="0.22"/>
<line x1="504.54" y1="369.73" x2="513.74" y2="364.66" stroke="#b4b2aa" stroke-width="0.9" stroke-opacity="0.32"/>
<line x1="505.11" y1="370.92" x2="515.13" y2="366.88" stroke="#ffffff" stroke-width="0.9" stroke-opacity="0.22"/>
<line x1="505.53" y1="372.17" x2="515.67" y2="369.45" stroke="#b4b2aa" stroke-width="0.9" stroke-opacity="0.32"/>
<line x1="505.79" y1="373.46" x2="516.48" y2="371.94" stroke="#ffffff" stroke-width="0.9" stroke-opacity="0.22"/>
<line x1="505.90" y1="374.77" x2="516.40" y2="374.55" stroke="#b4b2aa" stroke-width="0.9" stroke-opacity="0.32"/>
<line x1="505.85" y1="376.09" x2="516.59" y2="377.17" stroke="#ffffff" stroke-width="0.9" stroke-opacity="0.22"/>
<circle cx="495" cy="375" r="22.0" fill="url(#rimw)"/>
</g><g filter="url(#s)">
<circle cx="494.7" cy="374" r="10.9" fill="#e6e5e0"/>
<circle cx="494.7" cy="374" r="9.20" fill="none" stroke="#58666e" stroke-width="3.40" stroke-dasharray="0.893 1.734"/>
<circle cx="494.7" cy="374" r="7.85" fill="#59626a" fill-opacity="0.75"/>
<circle cx="494.7" cy="374" r="7.5" fill="url(#hubb2)"/>
<circle cx="500.20" cy="373.40" r="1.2" fill="#fff"/>
<circle cx="492.50" cy="379.00" r="1.2" fill="#fff"/>
</g>
<text x="478.00" y="345.30" font-size="5.8" class="lb" textLength="35.00" lengthAdjust="spacingAndGlyphs">Domet Flannel</text>
<g filter="url(#s2)">
<polygon points="571.20,376.40 570.11,378.75 570.09,381.34 568.47,383.36 567.83,385.87 565.77,387.44 564.55,389.73 562.18,390.76 560.44,392.69 557.89,393.13 555.75,394.58 553.17,394.40 550.74,395.30 548.27,394.50 545.70,394.79 543.50,393.43 540.93,393.09 539.12,391.24 536.70,390.31 535.39,388.07 533.27,386.59 532.53,384.11 530.82,382.15 530.70,379.57 529.51,377.26 530.00,374.72 529.40,372.20 530.49,369.85 530.51,367.26 532.13,365.24 532.77,362.73 534.83,361.16 536.05,358.87 538.42,357.84 540.16,355.91 542.71,355.47 544.85,354.02 547.43,354.20 549.86,353.30 552.33,354.10 554.90,353.81 557.10,355.17 559.67,355.51 561.48,357.36 563.90,358.29 565.21,360.53 567.33,362.01 568.07,364.49 569.78,366.45 569.90,369.03 571.09,371.34 570.60,373.88" fill="#EEF0F0" stroke="#EEF0F0" stroke-width="0.6" stroke-linejoin="round"/>
<line x1="560.94" y1="376.69" x2="570.01" y2="378.72" stroke="#bcc2c4" stroke-width="0.9" stroke-opacity="0.32"/>
<line x1="560.57" y1="377.95" x2="569.62" y2="381.17" stroke="#ffffff" stroke-width="0.9" stroke-opacity="0.22"/>
<line x1="560.05" y1="379.16" x2="568.38" y2="383.31" stroke="#bcc2c4" stroke-width="0.9" stroke-opacity="0.32"/>
<line x1="559.40" y1="380.30" x2="567.41" y2="385.59" stroke="#ffffff" stroke-width="0.9" stroke-opacity="0.22"/>
<line x1="558.61" y1="381.36" x2="565.70" y2="387.38" stroke="#bcc2c4" stroke-width="0.9" stroke-opacity="0.32"/>
<line x1="557.70" y1="382.31" x2="564.21" y2="389.36" stroke="#ffffff" stroke-width="0.9" stroke-opacity="0.22"/>
<line x1="556.68" y1="383.14" x2="562.12" y2="390.68" stroke="#bcc2c4" stroke-width="0.9" stroke-opacity="0.32"/>
<line x1="555.57" y1="383.84" x2="560.20" y2="392.25" stroke="#ffffff" stroke-width="0.9" stroke-opacity="0.22"/>
<line x1="554.38" y1="384.41" x2="557.85" y2="393.03" stroke="#bcc2c4" stroke-width="0.9" stroke-opacity="0.32"/>
<line x1="553.13" y1="384.83" x2="555.62" y2="394.10" stroke="#ffffff" stroke-width="0.9" stroke-opacity="0.22"/>
<line x1="551.84" y1="385.09" x2="553.15" y2="394.30" stroke="#bcc2c4" stroke-width="0.9" stroke-opacity="0.32"/>
<line x1="550.53" y1="385.20" x2="550.73" y2="394.80" stroke="#ffffff" stroke-width="0.9" stroke-opacity="0.22"/>
<line x1="549.21" y1="385.15" x2="548.28" y2="394.40" stroke="#bcc2c4" stroke-width="0.9" stroke-opacity="0.32"/>
<line x1="547.91" y1="384.94" x2="545.81" y2="394.30" stroke="#ffffff" stroke-width="0.9" stroke-opacity="0.22"/>
<line x1="546.65" y1="384.57" x2="543.53" y2="393.33" stroke="#bcc2c4" stroke-width="0.9" stroke-opacity="0.32"/>
<line x1="545.44" y1="384.05" x2="541.15" y2="392.65" stroke="#ffffff" stroke-width="0.9" stroke-opacity="0.22"/>
<line x1="544.30" y1="383.40" x2="539.17" y2="391.16" stroke="#bcc2c4" stroke-width="0.9" stroke-opacity="0.32"/>
<line x1="543.24" y1="382.61" x2="537.03" y2="389.92" stroke="#ffffff" stroke-width="0.9" stroke-opacity="0.22"/>
<line x1="542.29" y1="381.70" x2="535.46" y2="388.01" stroke="#bcc2c4" stroke-width="0.9" stroke-opacity="0.32"/>
<line x1="541.46" y1="380.68" x2="533.68" y2="386.29" stroke="#ffffff" stroke-width="0.9" stroke-opacity="0.22"/>
<line x1="540.76" y1="379.57" x2="532.61" y2="384.06" stroke="#bcc2c4" stroke-width="0.9" stroke-opacity="0.32"/>
<line x1="540.19" y1="378.38" x2="531.29" y2="381.97" stroke="#ffffff" stroke-width="0.9" stroke-opacity="0.22"/>
<line x1="539.77" y1="377.13" x2="530.79" y2="379.54" stroke="#bcc2c4" stroke-width="0.9" stroke-opacity="0.32"/>
<line x1="539.51" y1="375.84" x2="530.01" y2="377.19" stroke="#ffffff" stroke-width="0.9" stroke-opacity="0.22"/>
<line x1="539.40" y1="374.53" x2="530.10" y2="374.72" stroke="#bcc2c4" stroke-width="0.9" stroke-opacity="0.32"/>
<line x1="539.45" y1="373.21" x2="529.90" y2="372.25" stroke="#ffffff" stroke-width="0.9" stroke-opacity="0.22"/>
<line x1="539.66" y1="371.91" x2="530.59" y2="369.88" stroke="#bcc2c4" stroke-width="0.9" stroke-opacity="0.32"/>
<line x1="540.03" y1="370.65" x2="530.98" y2="367.43" stroke="#ffffff" stroke-width="0.9" stroke-opacity="0.22"/>
<line x1="540.55" y1="369.44" x2="532.22" y2="365.29" stroke="#bcc2c4" stroke-width="0.9" stroke-opacity="0.32"/>
<line x1="541.20" y1="368.30" x2="533.19" y2="363.01" stroke="#ffffff" stroke-width="0.9" stroke-opacity="0.22"/>
<line x1="541.99" y1="367.24" x2="534.90" y2="361.22" stroke="#bcc2c4" stroke-width="0.9" stroke-opacity="0.32"/>
<line x1="542.90" y1="366.29" x2="536.39" y2="359.24" stroke="#ffffff" stroke-width="0.9" stroke-opacity="0.22"/>
<line x1="543.92" y1="365.46" x2="538.48" y2="357.92" stroke="#bcc2c4" stroke-width="0.9" stroke-opacity="0.32"/>
<line x1="545.03" y1="364.76" x2="540.40" y2="356.35" stroke="#ffffff" stroke-width="0.9" stroke-opacity="0.22"/>
<line x1="546.22" y1="364.19" x2="542.75" y2="355.57" stroke="#bcc2c4" stroke-width="0.9" stroke-opacity="0.32"/>
<line x1="547.47" y1="363.77" x2="544.98" y2="354.50" stroke="#ffffff" stroke-width="0.9" stroke-opacity="0.22"/>
<line x1="548.76" y1="363.51" x2="547.45" y2="354.30" stroke="#bcc2c4" stroke-width="0.9" stroke-opacity="0.32"/>
<line x1="550.07" y1="363.40" x2="549.87" y2="353.80" stroke="#ffffff" stroke-width="0.9" stroke-opacity="0.22"/>
<line x1="551.39" y1="363.45" x2="552.32" y2="354.20" stroke="#bcc2c4" stroke-width="0.9" stroke-opacity="0.32"/>
<line x1="552.69" y1="363.66" x2="554.79" y2="354.30" stroke="#ffffff" stroke-width="0.9" stroke-opacity="0.22"/>
<line x1="553.95" y1="364.03" x2="557.07" y2="355.27" stroke="#bcc2c4" stroke-width="0.9" stroke-opacity="0.32"/>
<line x1="555.16" y1="364.55" x2="559.45" y2="355.95" stroke="#ffffff" stroke-width="0.9" stroke-opacity="0.22"/>
<line x1="556.30" y1="365.20" x2="561.43" y2="357.44" stroke="#bcc2c4" stroke-width="0.9" stroke-opacity="0.32"/>
<line x1="557.36" y1="365.99" x2="563.57" y2="358.68" stroke="#ffffff" stroke-width="0.9" stroke-opacity="0.22"/>
<line x1="558.31" y1="366.90" x2="565.14" y2="360.59" stroke="#bcc2c4" stroke-width="0.9" stroke-opacity="0.32"/>
<line x1="559.14" y1="367.92" x2="566.92" y2="362.31" stroke="#ffffff" stroke-width="0.9" stroke-opacity="0.22"/>
<line x1="559.84" y1="369.03" x2="567.99" y2="364.54" stroke="#bcc2c4" stroke-width="0.9" stroke-opacity="0.32"/>
<line x1="560.41" y1="370.22" x2="569.31" y2="366.63" stroke="#ffffff" stroke-width="0.9" stroke-opacity="0.22"/>
<line x1="560.83" y1="371.47" x2="569.81" y2="369.06" stroke="#bcc2c4" stroke-width="0.9" stroke-opacity="0.32"/>
<line x1="561.09" y1="372.76" x2="570.59" y2="371.41" stroke="#ffffff" stroke-width="0.9" stroke-opacity="0.22"/>
<line x1="561.20" y1="374.07" x2="570.50" y2="373.88" stroke="#bcc2c4" stroke-width="0.9" stroke-opacity="0.32"/>
<line x1="561.15" y1="375.39" x2="570.70" y2="376.35" stroke="#ffffff" stroke-width="0.9" stroke-opacity="0.22"/>
<circle cx="550.3" cy="374.3" r="20.8" fill="url(#rimw)"/>
</g><g filter="url(#s)">
<circle cx="550" cy="375" r="10.9" fill="#e4e6e6"/>
<circle cx="550" cy="375" r="8.90" fill="none" stroke="#5c666c" stroke-width="4.00" stroke-dasharray="0.864 1.678"/>
<circle cx="550" cy="375" r="7.25" fill="#59626a" fill-opacity="0.75"/>
<circle cx="550" cy="375" r="6.9" fill="url(#hubg)"/>
<circle cx="547.00" cy="370.80" r="1.0" fill="#fff"/>
<circle cx="550.30" cy="375.00" r="1.1" fill="#fff"/>
<circle cx="554.80" cy="375.00" r="1.0" fill="#fff"/>
<circle cx="547.00" cy="379.40" r="1.0" fill="#fff"/>
</g>
<text x="535.80" y="345.30" font-size="5.8" class="lb" textLength="29.70" lengthAdjust="spacingAndGlyphs">Mirror Shine</text>
<text x="424.50" y="345.20" font-size="5.8" class="lb" textLength="29.30" lengthAdjust="spacingAndGlyphs">UBM Airway</text>
<text x="424.50" y="350.20" font-size="5.8" class="lb" textLength="28.00" lengthAdjust="spacingAndGlyphs">(Untreated)</text>
<text x="47.9" y="403.30" font-size="4.4" class="d"><tspan class="b" font-size="4.22" fill="#111">Polishing Stainless Steel</tspan></text>
<text x="47.9" y="407.54" font-size="4.4" class="d">The first step is to pair our</text>
<text x="47.9" y="411.78" font-size="4.4" class="d">red airway buffing wheel</text>
<text x="47.9" y="416.02" font-size="4.4" class="d">with our Black Magic</text>
<text x="47.9" y="420.26" font-size="4.4" class="d">Compound. We recom-</text>
<text x="47.9" y="424.50" font-size="4.4" class="d">mend running the color</text>
<text x="47.9" y="428.74" font-size="4.4" class="d">stage with an <tspan class="b" font-size="4.22" fill="#111">RPM of</tspan></text>
<text x="47.9" y="432.98" font-size="4.4" class="d"><tspan class="b" font-size="4.22" fill="#111">3000-3500</tspan></text>
<text x="122" y="403.30" font-size="4.4" class="d"><tspan class="b" font-size="4.22" fill="#111">Aluminum Metal Polishing</tspan></text>
<text x="122" y="407.54" font-size="4.4" class="d">We recommend pairing our</text>
<text x="122" y="411.78" font-size="4.4" class="d">Brown Tripoli Metal</text>
<text x="122" y="416.02" font-size="4.4" class="d">Polishing Compound with</text>
<text x="122" y="420.26" font-size="4.4" class="d">our orange airway buffing</text>
<text x="122" y="424.50" font-size="4.4" class="d">wheels as the first step.</text>
<text x="122" y="428.74" font-size="4.4" class="d">We recommend running</text>
<text x="122" y="432.98" font-size="4.4" class="d">the color stage with an</text>
<text x="122" y="437.22" font-size="4.4" class="d"><tspan class="b" font-size="4.22" fill="#111">RPM of 3000-3500</tspan></text>
<text x="204.3" y="402.10" font-size="4.4" class="d"><tspan class="b" font-size="4.22" fill="#111">Polishing Stainless Steel</tspan></text>
<text x="204.3" y="406.38" font-size="4.4" class="d">The second step involves</text>
<text x="204.3" y="410.66" font-size="4.4" class="d">using a Pink buffing wheel</text>
<text x="204.3" y="414.94" font-size="4.4" class="d">with our Yellow Deluxe</text>
<text x="204.3" y="419.22" font-size="4.4" class="d">Compound. This should</text>
<text x="204.3" y="423.50" font-size="4.4" class="d">produce a fantastic clean</text>
<text x="204.3" y="427.78" font-size="4.4" class="d">shine. We recommend</text>
<text x="204.3" y="432.06" font-size="4.4" class="d">running the color stage</text>
<text x="204.3" y="436.34" font-size="4.4" class="d">with an <tspan class="b" font-size="4.22" fill="#111">RPM of</tspan></text>
<text x="204.3" y="440.62" font-size="4.4" class="d"><tspan class="b" font-size="4.22" fill="#111">2500-3200</tspan></text>
<text x="272.9" y="402.60" font-size="4.4" class="d"><tspan class="b" font-size="4.22" fill="#111">Aluminum Metal Polishing</tspan></text>
<text x="272.9" y="406.84" font-size="4.4" class="d">The second step in polishing</text>
<text x="272.9" y="411.08" font-size="4.4" class="d">aluminum, we would want to</text>
<text x="272.9" y="415.32" font-size="4.4" class="d">pair our yellow airway buffing</text>
<text x="272.9" y="419.56" font-size="4.4" class="d">wheel with our Green Rouge</text>
<text x="272.9" y="423.80" font-size="4.4" class="d">Metal Polishing Compound.</text>
<text x="272.9" y="428.04" font-size="4.4" class="d">This should produce a</text>
<text x="272.9" y="432.28" font-size="4.4" class="d">fantastic clean shine. We</text>
<text x="272.9" y="436.52" font-size="4.4" class="d">recommend running the color</text>
<text x="272.9" y="440.76" font-size="4.4" class="d">stage with an <tspan class="b" font-size="4.22" fill="#111">RPM of</tspan></text>
<text x="272.9" y="445.00" font-size="4.4" class="d"><tspan class="b" font-size="4.22" fill="#111">2500-3200</tspan></text>
<text x="343.2" y="402.60" font-size="4.4" class="d"><tspan class="b" font-size="4.22" fill="#111">Second Stage Polishing</tspan></text>
<text x="343.2" y="406.84" font-size="4.4" class="d">The second step in polishing</text>
<text x="343.2" y="411.08" font-size="4.4" class="d">aluminum or steel, we would</text>
<text x="343.2" y="415.32" font-size="4.4" class="d">want to pair our Purple Wheel</text>
<text x="343.2" y="419.56" font-size="4.4" class="d">+ Blue or White Compound.</text>
<text x="343.2" y="423.80" font-size="4.4" class="d">This should produce a</text>
<text x="343.2" y="428.04" font-size="4.4" class="d">fantastic clean shine. We</text>
<text x="343.2" y="432.28" font-size="4.4" class="d">recommend running the color</text>
<text x="343.2" y="436.52" font-size="4.4" class="d">stage with an <tspan class="b" font-size="4.22" fill="#111">RPM of</tspan></text>
<text x="343.2" y="440.76" font-size="4.4" class="d"><tspan class="b" font-size="4.22" fill="#111">2500-3200</tspan></text>
<text x="422" y="403.40" font-size="4.4" class="d">For an show-shine finish, some use a white buffing wheel with our Polishing</text>
<text x="422" y="407.60" font-size="4.4" class="d">Compound. We recommend running at no more than <tspan class="b" font-size="4.22" fill="#111">RPM of 1,800-2,200</tspan></text>
</svg></body></html>
